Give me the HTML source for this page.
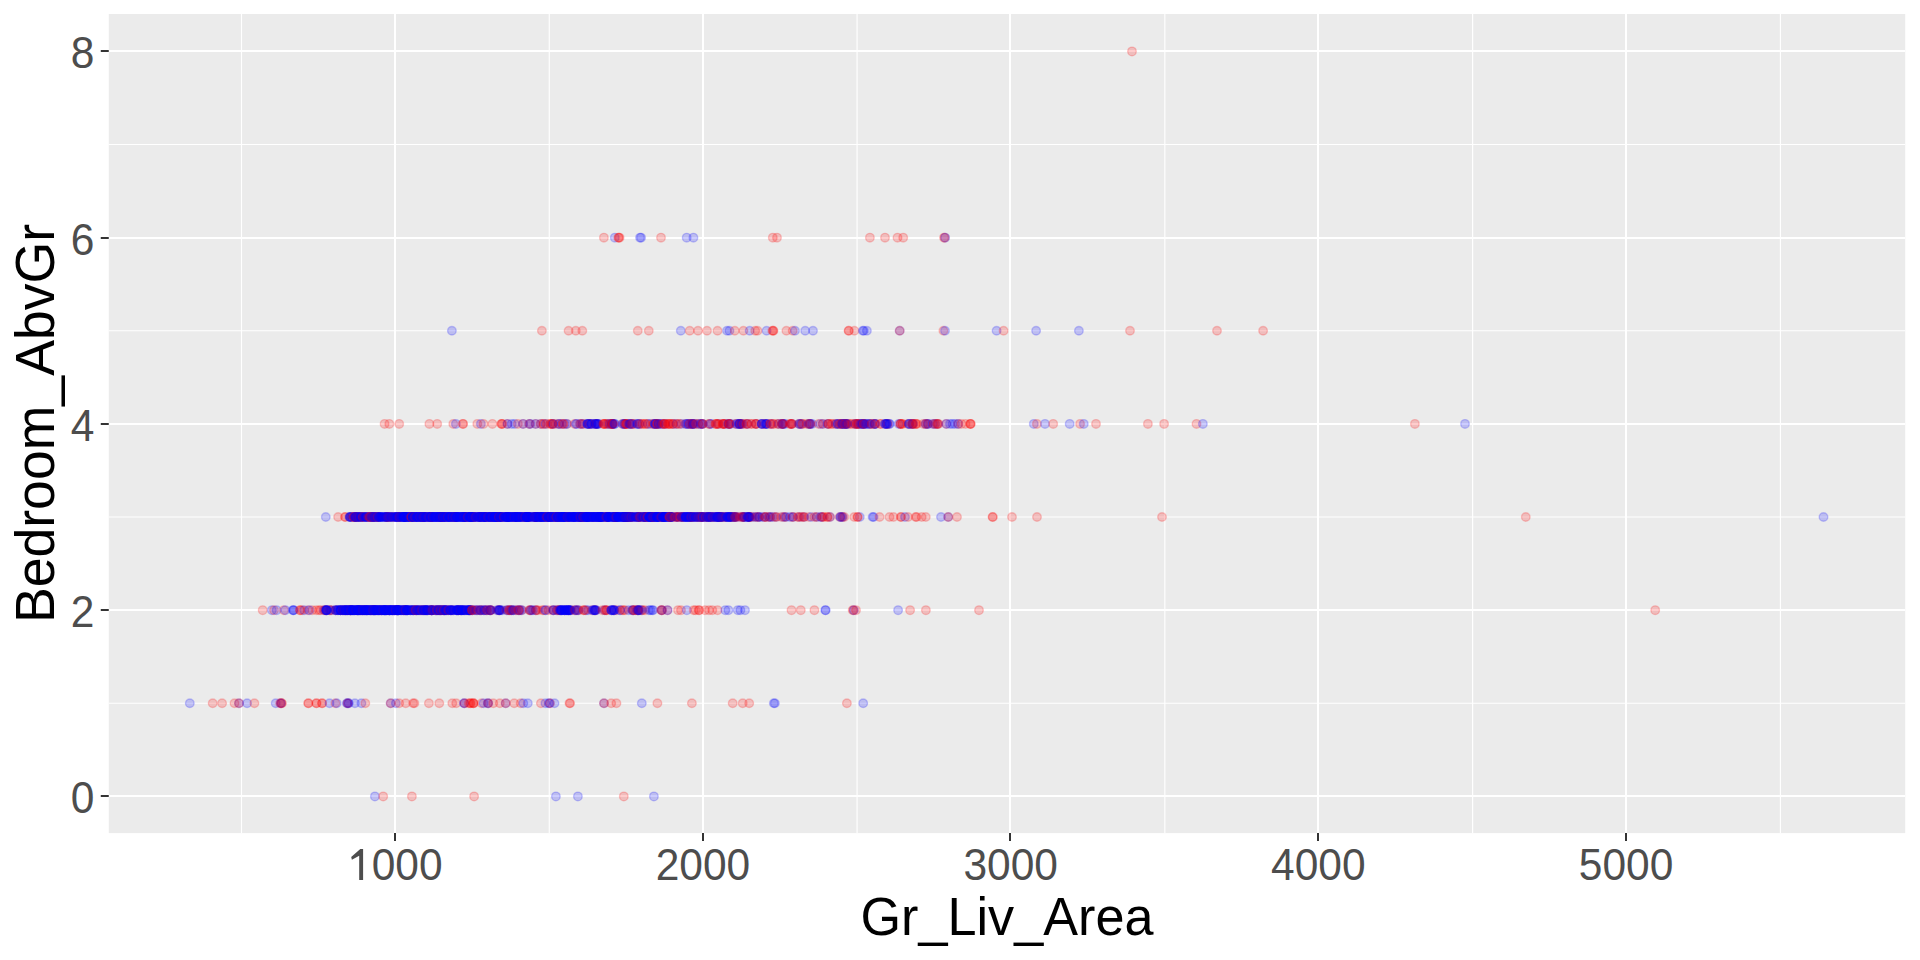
<!DOCTYPE html>
<html><head><meta charset="utf-8"><title>Gr_Liv_Area vs Bedroom_AbvGr</title>
<style>html,body{margin:0;padding:0;background:#fff;width:1920px;height:960px;overflow:hidden}svg{display:block}.r{fill:rgba(255,0,0,0.2);stroke:rgba(255,0,0,0.2)}.b{fill:rgba(0,0,255,0.2);stroke:rgba(0,0,255,0.2)}text{font-family:"Liberation Sans",sans-serif}</style>
</head><body>
<svg width="1920" height="960" viewBox="0 0 1920 960">
<rect x="0" y="0" width="1920" height="960" fill="#FFFFFF"/>
<rect x="108.77" y="14.00" width="1796.42" height="819.10" fill="#EBEBEB"/><line x1="241.50" x2="241.50" y1="14.00" y2="833.10" stroke="#fff" stroke-width="1.15"/><line x1="549.28" x2="549.28" y1="14.00" y2="833.10" stroke="#fff" stroke-width="1.15"/><line x1="857.06" x2="857.06" y1="14.00" y2="833.10" stroke="#fff" stroke-width="1.15"/><line x1="1164.84" x2="1164.84" y1="14.00" y2="833.10" stroke="#fff" stroke-width="1.15"/><line x1="1472.62" x2="1472.62" y1="14.00" y2="833.10" stroke="#fff" stroke-width="1.15"/><line x1="1780.40" x2="1780.40" y1="14.00" y2="833.10" stroke="#fff" stroke-width="1.15"/><line x1="108.77" x2="1905.19" y1="703.27" y2="703.27" stroke="#fff" stroke-width="1.15"/><line x1="108.77" x2="1905.19" y1="517.02" y2="517.02" stroke="#fff" stroke-width="1.15"/><line x1="108.77" x2="1905.19" y1="330.77" y2="330.77" stroke="#fff" stroke-width="1.15"/><line x1="108.77" x2="1905.19" y1="144.52" y2="144.52" stroke="#fff" stroke-width="1.15"/><line x1="395.00" x2="395.00" y1="14.00" y2="833.10" stroke="#fff" stroke-width="2"/><line x1="703.00" x2="703.00" y1="14.00" y2="833.10" stroke="#fff" stroke-width="2"/><line x1="1010.00" x2="1010.00" y1="14.00" y2="833.10" stroke="#fff" stroke-width="2"/><line x1="1318.00" x2="1318.00" y1="14.00" y2="833.10" stroke="#fff" stroke-width="2"/><line x1="1626.00" x2="1626.00" y1="14.00" y2="833.10" stroke="#fff" stroke-width="2"/><line x1="108.77" x2="1905.19" y1="796.00" y2="796.00" stroke="#fff" stroke-width="2"/><line x1="108.77" x2="1905.19" y1="610.00" y2="610.00" stroke="#fff" stroke-width="2"/><line x1="108.77" x2="1905.19" y1="424.00" y2="424.00" stroke="#fff" stroke-width="2"/><line x1="108.77" x2="1905.19" y1="238.00" y2="238.00" stroke="#fff" stroke-width="2"/><line x1="108.77" x2="1905.19" y1="51.00" y2="51.00" stroke="#fff" stroke-width="2"/><g stroke-width="1.4"><circle cx="1132.0" cy="51.40" r="4.3" class="r"/><circle cx="603.9" cy="237.65" r="4.3" class="r"/><circle cx="614.8" cy="237.65" r="4.3" class="b"/><circle cx="618.8" cy="237.65" r="4.3" class="r"/><circle cx="618.4" cy="237.65" r="4.3" class="r"/><circle cx="619.6" cy="237.65" r="4.3" class="r"/><circle cx="640.0" cy="237.65" r="4.3" class="b"/><circle cx="641.1" cy="237.65" r="4.3" class="b"/><circle cx="661.0" cy="237.65" r="4.3" class="r"/><circle cx="686.7" cy="237.65" r="4.3" class="b"/><circle cx="693.4" cy="237.65" r="4.3" class="b"/><circle cx="772.8" cy="237.65" r="4.3" class="r"/><circle cx="777.0" cy="237.65" r="4.3" class="r"/><circle cx="869.9" cy="237.65" r="4.3" class="r"/><circle cx="885.0" cy="237.65" r="4.3" class="r"/><circle cx="897.5" cy="237.65" r="4.3" class="r"/><circle cx="903.2" cy="237.65" r="4.3" class="r"/><circle cx="944.8" cy="237.65" r="4.3" class="r"/><circle cx="944.0" cy="237.65" r="4.3" class="r"/><circle cx="945.1" cy="237.65" r="4.3" class="b"/><circle cx="451.9" cy="330.77" r="4.3" class="b"/><circle cx="541.9" cy="330.77" r="4.3" class="r"/><circle cx="568.6" cy="330.77" r="4.3" class="r"/><circle cx="575.8" cy="330.77" r="4.3" class="r"/><circle cx="582.3" cy="330.77" r="4.3" class="r"/><circle cx="637.8" cy="330.77" r="4.3" class="r"/><circle cx="648.8" cy="330.77" r="4.3" class="r"/><circle cx="680.8" cy="330.77" r="4.3" class="b"/><circle cx="689.7" cy="330.77" r="4.3" class="r"/><circle cx="698.0" cy="330.77" r="4.3" class="r"/><circle cx="707.0" cy="330.77" r="4.3" class="r"/><circle cx="717.5" cy="330.77" r="4.3" class="r"/><circle cx="727.0" cy="330.77" r="4.3" class="b"/><circle cx="729.4" cy="330.77" r="4.3" class="b"/><circle cx="734.8" cy="330.77" r="4.3" class="r"/><circle cx="743.4" cy="330.77" r="4.3" class="r"/><circle cx="749.7" cy="330.77" r="4.3" class="b"/><circle cx="755.2" cy="330.77" r="4.3" class="r"/><circle cx="757.5" cy="330.77" r="4.3" class="r"/><circle cx="766.6" cy="330.77" r="4.3" class="b"/><circle cx="773.4" cy="330.77" r="4.3" class="r"/><circle cx="772.3" cy="330.77" r="4.3" class="r"/><circle cx="773.2" cy="330.77" r="4.3" class="r"/><circle cx="786.4" cy="330.77" r="4.3" class="r"/><circle cx="792.7" cy="330.77" r="4.3" class="r"/><circle cx="795.0" cy="330.77" r="4.3" class="b"/><circle cx="805.2" cy="330.77" r="4.3" class="b"/><circle cx="813.0" cy="330.77" r="4.3" class="b"/><circle cx="848.7" cy="330.77" r="4.3" class="r"/><circle cx="848.7" cy="330.77" r="4.3" class="r"/><circle cx="854.4" cy="330.77" r="4.3" class="r"/><circle cx="862.8" cy="330.77" r="4.3" class="b"/><circle cx="863.8" cy="330.77" r="4.3" class="b"/><circle cx="866.9" cy="330.77" r="4.3" class="b"/><circle cx="899.7" cy="330.77" r="4.3" class="b"/><circle cx="899.7" cy="330.77" r="4.3" class="r"/><circle cx="943.4" cy="330.77" r="4.3" class="r"/><circle cx="945.0" cy="330.77" r="4.3" class="b"/><circle cx="996.6" cy="330.77" r="4.3" class="b"/><circle cx="1003.6" cy="330.77" r="4.3" class="r"/><circle cx="1036.1" cy="330.77" r="4.3" class="b"/><circle cx="1078.9" cy="330.77" r="4.3" class="b"/><circle cx="1130.0" cy="330.77" r="4.3" class="r"/><circle cx="1217.0" cy="330.77" r="4.3" class="r"/><circle cx="1263.1" cy="330.77" r="4.3" class="r"/><circle cx="384.6" cy="423.90" r="4.3" class="r"/><circle cx="389.3" cy="423.90" r="4.3" class="r"/><circle cx="399.2" cy="423.90" r="4.3" class="r"/><circle cx="429.4" cy="423.90" r="4.3" class="r"/><circle cx="437.2" cy="423.90" r="4.3" class="r"/><circle cx="453.3" cy="423.90" r="4.3" class="r"/><circle cx="455.9" cy="423.90" r="4.3" class="b"/><circle cx="462.9" cy="423.90" r="4.3" class="r"/><circle cx="463.1" cy="423.90" r="4.3" class="r"/><circle cx="477.3" cy="423.90" r="4.3" class="r"/><circle cx="480.9" cy="423.90" r="4.3" class="b"/><circle cx="483.5" cy="423.90" r="4.3" class="r"/><circle cx="492.4" cy="423.90" r="4.3" class="r"/><circle cx="501.6" cy="423.90" r="4.3" class="r"/><circle cx="502.4" cy="423.90" r="4.3" class="r"/><circle cx="501.5" cy="423.90" r="4.3" class="r"/><circle cx="507.5" cy="423.90" r="4.3" class="r"/><circle cx="507.5" cy="423.90" r="4.3" class="b"/><circle cx="511.7" cy="423.90" r="4.3" class="b"/><circle cx="514.8" cy="423.90" r="4.3" class="b"/><circle cx="517.9" cy="423.90" r="4.3" class="r"/><circle cx="523.1" cy="423.90" r="4.3" class="r"/><circle cx="523.1" cy="423.90" r="4.3" class="b"/><circle cx="529.2" cy="423.90" r="4.3" class="b"/><circle cx="530.5" cy="423.90" r="4.3" class="b"/><circle cx="529.4" cy="423.90" r="4.3" class="r"/><circle cx="535.6" cy="423.90" r="4.3" class="r"/><circle cx="535.6" cy="423.90" r="4.3" class="b"/><circle cx="540.8" cy="423.90" r="4.3" class="b"/><circle cx="540.8" cy="423.90" r="4.3" class="r"/><circle cx="550.2" cy="423.90" r="4.3" class="r"/><circle cx="552.2" cy="423.90" r="4.3" class="r"/><circle cx="550.8" cy="423.90" r="4.3" class="r"/><circle cx="558.7" cy="423.90" r="4.3" class="b"/><circle cx="558.7" cy="423.90" r="4.3" class="b"/><circle cx="559.6" cy="423.90" r="4.3" class="r"/><circle cx="566.9" cy="423.90" r="4.3" class="r"/><circle cx="566.9" cy="423.90" r="4.3" class="b"/><circle cx="543.1" cy="423.90" r="4.3" class="r"/><circle cx="543.9" cy="423.90" r="4.3" class="r"/><circle cx="545.5" cy="423.90" r="4.3" class="b"/><circle cx="546.9" cy="423.90" r="4.3" class="r"/><circle cx="555.3" cy="423.90" r="4.3" class="r"/><circle cx="552.4" cy="423.90" r="4.3" class="r"/><circle cx="552.4" cy="423.90" r="4.3" class="r"/><circle cx="553.2" cy="423.90" r="4.3" class="b"/><circle cx="561.8" cy="423.90" r="4.3" class="b"/><circle cx="564.8" cy="423.90" r="4.3" class="b"/><circle cx="563.5" cy="423.90" r="4.3" class="r"/><circle cx="562.7" cy="423.90" r="4.3" class="r"/><circle cx="575.8" cy="423.90" r="4.3" class="b"/><circle cx="574.6" cy="423.90" r="4.3" class="r"/><circle cx="576.7" cy="423.90" r="4.3" class="b"/><circle cx="580.3" cy="423.90" r="4.3" class="b"/><circle cx="581.9" cy="423.90" r="4.3" class="r"/><circle cx="583.9" cy="423.90" r="4.3" class="r"/><circle cx="582.3" cy="423.90" r="4.3" class="b"/><circle cx="580.1" cy="423.90" r="4.3" class="r"/><circle cx="589.0" cy="423.90" r="4.3" class="r"/><circle cx="589.1" cy="423.90" r="4.3" class="r"/><circle cx="590.0" cy="423.90" r="4.3" class="r"/><circle cx="591.8" cy="423.90" r="4.3" class="b"/><circle cx="587.4" cy="423.90" r="4.3" class="b"/><circle cx="587.6" cy="423.90" r="4.3" class="b"/><circle cx="588.6" cy="423.90" r="4.3" class="b"/><circle cx="591.2" cy="423.90" r="4.3" class="b"/><circle cx="587.4" cy="423.90" r="4.3" class="b"/><circle cx="591.4" cy="423.90" r="4.3" class="b"/><circle cx="594.9" cy="423.90" r="4.3" class="r"/><circle cx="596.5" cy="423.90" r="4.3" class="r"/><circle cx="597.1" cy="423.90" r="4.3" class="r"/><circle cx="595.7" cy="423.90" r="4.3" class="b"/><circle cx="597.3" cy="423.90" r="4.3" class="b"/><circle cx="598.3" cy="423.90" r="4.3" class="b"/><circle cx="595.1" cy="423.90" r="4.3" class="b"/><circle cx="598.6" cy="423.90" r="4.3" class="b"/><circle cx="595.1" cy="423.90" r="4.3" class="b"/><circle cx="596.7" cy="423.90" r="4.3" class="b"/><circle cx="604.4" cy="423.90" r="4.3" class="r"/><circle cx="603.7" cy="423.90" r="4.3" class="r"/><circle cx="607.5" cy="423.90" r="4.3" class="b"/><circle cx="603.3" cy="423.90" r="4.3" class="r"/><circle cx="605.0" cy="423.90" r="4.3" class="r"/><circle cx="606.4" cy="423.90" r="4.3" class="r"/><circle cx="608.7" cy="423.90" r="4.3" class="r"/><circle cx="609.5" cy="423.90" r="4.3" class="b"/><circle cx="610.3" cy="423.90" r="4.3" class="r"/><circle cx="612.3" cy="423.90" r="4.3" class="r"/><circle cx="612.2" cy="423.90" r="4.3" class="r"/><circle cx="611.9" cy="423.90" r="4.3" class="r"/><circle cx="612.9" cy="423.90" r="4.3" class="r"/><circle cx="611.5" cy="423.90" r="4.3" class="b"/><circle cx="612.6" cy="423.90" r="4.3" class="r"/><circle cx="613.1" cy="423.90" r="4.3" class="b"/><circle cx="612.9" cy="423.90" r="4.3" class="r"/><circle cx="615.0" cy="423.90" r="4.3" class="b"/><circle cx="614.4" cy="423.90" r="4.3" class="b"/><circle cx="625.2" cy="423.90" r="4.3" class="r"/><circle cx="622.2" cy="423.90" r="4.3" class="r"/><circle cx="624.7" cy="423.90" r="4.3" class="r"/><circle cx="622.9" cy="423.90" r="4.3" class="b"/><circle cx="623.6" cy="423.90" r="4.3" class="b"/><circle cx="626.4" cy="423.90" r="4.3" class="r"/><circle cx="625.1" cy="423.90" r="4.3" class="r"/><circle cx="629.9" cy="423.90" r="4.3" class="r"/><circle cx="624.7" cy="423.90" r="4.3" class="b"/><circle cx="626.9" cy="423.90" r="4.3" class="r"/><circle cx="626.6" cy="423.90" r="4.3" class="r"/><circle cx="634.4" cy="423.90" r="4.3" class="r"/><circle cx="631.0" cy="423.90" r="4.3" class="b"/><circle cx="631.9" cy="423.90" r="4.3" class="r"/><circle cx="629.1" cy="423.90" r="4.3" class="b"/><circle cx="632.5" cy="423.90" r="4.3" class="b"/><circle cx="629.9" cy="423.90" r="4.3" class="b"/><circle cx="632.4" cy="423.90" r="4.3" class="r"/><circle cx="638.8" cy="423.90" r="4.3" class="b"/><circle cx="637.2" cy="423.90" r="4.3" class="b"/><circle cx="637.3" cy="423.90" r="4.3" class="b"/><circle cx="641.8" cy="423.90" r="4.3" class="r"/><circle cx="642.7" cy="423.90" r="4.3" class="r"/><circle cx="639.6" cy="423.90" r="4.3" class="b"/><circle cx="639.5" cy="423.90" r="4.3" class="r"/><circle cx="650.6" cy="423.90" r="4.3" class="b"/><circle cx="648.0" cy="423.90" r="4.3" class="r"/><circle cx="647.9" cy="423.90" r="4.3" class="b"/><circle cx="644.9" cy="423.90" r="4.3" class="r"/><circle cx="645.6" cy="423.90" r="4.3" class="r"/><circle cx="652.9" cy="423.90" r="4.3" class="r"/><circle cx="654.6" cy="423.90" r="4.3" class="b"/><circle cx="657.0" cy="423.90" r="4.3" class="r"/><circle cx="655.4" cy="423.90" r="4.3" class="b"/><circle cx="656.3" cy="423.90" r="4.3" class="b"/><circle cx="653.7" cy="423.90" r="4.3" class="r"/><circle cx="655.3" cy="423.90" r="4.3" class="b"/><circle cx="654.8" cy="423.90" r="4.3" class="b"/><circle cx="657.2" cy="423.90" r="4.3" class="r"/><circle cx="662.7" cy="423.90" r="4.3" class="b"/><circle cx="659.1" cy="423.90" r="4.3" class="r"/><circle cx="658.6" cy="423.90" r="4.3" class="b"/><circle cx="657.2" cy="423.90" r="4.3" class="r"/><circle cx="661.2" cy="423.90" r="4.3" class="b"/><circle cx="658.7" cy="423.90" r="4.3" class="b"/><circle cx="664.8" cy="423.90" r="4.3" class="r"/><circle cx="665.7" cy="423.90" r="4.3" class="b"/><circle cx="667.9" cy="423.90" r="4.3" class="r"/><circle cx="664.0" cy="423.90" r="4.3" class="r"/><circle cx="664.9" cy="423.90" r="4.3" class="r"/><circle cx="662.6" cy="423.90" r="4.3" class="r"/><circle cx="673.3" cy="423.90" r="4.3" class="b"/><circle cx="668.7" cy="423.90" r="4.3" class="r"/><circle cx="669.2" cy="423.90" r="4.3" class="r"/><circle cx="673.0" cy="423.90" r="4.3" class="r"/><circle cx="670.3" cy="423.90" r="4.3" class="r"/><circle cx="672.3" cy="423.90" r="4.3" class="r"/><circle cx="681.6" cy="423.90" r="4.3" class="b"/><circle cx="676.6" cy="423.90" r="4.3" class="b"/><circle cx="676.1" cy="423.90" r="4.3" class="r"/><circle cx="680.1" cy="423.90" r="4.3" class="r"/><circle cx="678.4" cy="423.90" r="4.3" class="r"/><circle cx="689.8" cy="423.90" r="4.3" class="r"/><circle cx="688.7" cy="423.90" r="4.3" class="b"/><circle cx="690.7" cy="423.90" r="4.3" class="b"/><circle cx="685.7" cy="423.90" r="4.3" class="r"/><circle cx="685.6" cy="423.90" r="4.3" class="b"/><circle cx="686.9" cy="423.90" r="4.3" class="b"/><circle cx="688.1" cy="423.90" r="4.3" class="b"/><circle cx="689.6" cy="423.90" r="4.3" class="r"/><circle cx="692.6" cy="423.90" r="4.3" class="b"/><circle cx="692.3" cy="423.90" r="4.3" class="r"/><circle cx="692.4" cy="423.90" r="4.3" class="b"/><circle cx="692.8" cy="423.90" r="4.3" class="b"/><circle cx="693.5" cy="423.90" r="4.3" class="b"/><circle cx="694.5" cy="423.90" r="4.3" class="b"/><circle cx="696.0" cy="423.90" r="4.3" class="r"/><circle cx="692.5" cy="423.90" r="4.3" class="r"/><circle cx="702.6" cy="423.90" r="4.3" class="b"/><circle cx="700.5" cy="423.90" r="4.3" class="b"/><circle cx="701.1" cy="423.90" r="4.3" class="b"/><circle cx="702.4" cy="423.90" r="4.3" class="r"/><circle cx="698.3" cy="423.90" r="4.3" class="b"/><circle cx="702.1" cy="423.90" r="4.3" class="b"/><circle cx="702.7" cy="423.90" r="4.3" class="r"/><circle cx="698.2" cy="423.90" r="4.3" class="r"/><circle cx="709.7" cy="423.90" r="4.3" class="r"/><circle cx="711.3" cy="423.90" r="4.3" class="b"/><circle cx="709.9" cy="423.90" r="4.3" class="b"/><circle cx="708.6" cy="423.90" r="4.3" class="r"/><circle cx="715.7" cy="423.90" r="4.3" class="r"/><circle cx="718.6" cy="423.90" r="4.3" class="b"/><circle cx="717.4" cy="423.90" r="4.3" class="r"/><circle cx="718.6" cy="423.90" r="4.3" class="r"/><circle cx="717.0" cy="423.90" r="4.3" class="r"/><circle cx="715.5" cy="423.90" r="4.3" class="r"/><circle cx="724.2" cy="423.90" r="4.3" class="b"/><circle cx="724.2" cy="423.90" r="4.3" class="r"/><circle cx="722.9" cy="423.90" r="4.3" class="r"/><circle cx="722.7" cy="423.90" r="4.3" class="r"/><circle cx="725.6" cy="423.90" r="4.3" class="r"/><circle cx="723.2" cy="423.90" r="4.3" class="r"/><circle cx="729.6" cy="423.90" r="4.3" class="b"/><circle cx="728.8" cy="423.90" r="4.3" class="b"/><circle cx="731.0" cy="423.90" r="4.3" class="b"/><circle cx="728.3" cy="423.90" r="4.3" class="b"/><circle cx="728.9" cy="423.90" r="4.3" class="r"/><circle cx="729.4" cy="423.90" r="4.3" class="r"/><circle cx="729.5" cy="423.90" r="4.3" class="r"/><circle cx="739.8" cy="423.90" r="4.3" class="r"/><circle cx="739.7" cy="423.90" r="4.3" class="r"/><circle cx="739.0" cy="423.90" r="4.3" class="b"/><circle cx="736.9" cy="423.90" r="4.3" class="b"/><circle cx="736.4" cy="423.90" r="4.3" class="b"/><circle cx="739.9" cy="423.90" r="4.3" class="b"/><circle cx="735.3" cy="423.90" r="4.3" class="r"/><circle cx="740.9" cy="423.90" r="4.3" class="r"/><circle cx="740.2" cy="423.90" r="4.3" class="r"/><circle cx="739.1" cy="423.90" r="4.3" class="b"/><circle cx="739.1" cy="423.90" r="4.3" class="b"/><circle cx="741.6" cy="423.90" r="4.3" class="b"/><circle cx="742.3" cy="423.90" r="4.3" class="b"/><circle cx="743.3" cy="423.90" r="4.3" class="r"/><circle cx="746.7" cy="423.90" r="4.3" class="r"/><circle cx="746.5" cy="423.90" r="4.3" class="r"/><circle cx="751.3" cy="423.90" r="4.3" class="r"/><circle cx="747.6" cy="423.90" r="4.3" class="b"/><circle cx="747.4" cy="423.90" r="4.3" class="r"/><circle cx="751.5" cy="423.90" r="4.3" class="r"/><circle cx="756.0" cy="423.90" r="4.3" class="b"/><circle cx="756.2" cy="423.90" r="4.3" class="r"/><circle cx="755.4" cy="423.90" r="4.3" class="r"/><circle cx="756.1" cy="423.90" r="4.3" class="r"/><circle cx="761.7" cy="423.90" r="4.3" class="r"/><circle cx="765.5" cy="423.90" r="4.3" class="r"/><circle cx="764.0" cy="423.90" r="4.3" class="r"/><circle cx="761.8" cy="423.90" r="4.3" class="b"/><circle cx="767.0" cy="423.90" r="4.3" class="b"/><circle cx="765.2" cy="423.90" r="4.3" class="b"/><circle cx="766.2" cy="423.90" r="4.3" class="b"/><circle cx="761.9" cy="423.90" r="4.3" class="b"/><circle cx="766.5" cy="423.90" r="4.3" class="b"/><circle cx="761.8" cy="423.90" r="4.3" class="b"/><circle cx="770.7" cy="423.90" r="4.3" class="r"/><circle cx="773.2" cy="423.90" r="4.3" class="r"/><circle cx="771.3" cy="423.90" r="4.3" class="b"/><circle cx="770.0" cy="423.90" r="4.3" class="r"/><circle cx="777.3" cy="423.90" r="4.3" class="r"/><circle cx="778.8" cy="423.90" r="4.3" class="b"/><circle cx="773.3" cy="423.90" r="4.3" class="r"/><circle cx="778.6" cy="423.90" r="4.3" class="r"/><circle cx="782.6" cy="423.90" r="4.3" class="r"/><circle cx="785.3" cy="423.90" r="4.3" class="b"/><circle cx="781.8" cy="423.90" r="4.3" class="b"/><circle cx="782.5" cy="423.90" r="4.3" class="b"/><circle cx="783.8" cy="423.90" r="4.3" class="b"/><circle cx="782.8" cy="423.90" r="4.3" class="b"/><circle cx="782.6" cy="423.90" r="4.3" class="r"/><circle cx="782.0" cy="423.90" r="4.3" class="r"/><circle cx="789.5" cy="423.90" r="4.3" class="r"/><circle cx="791.1" cy="423.90" r="4.3" class="r"/><circle cx="791.9" cy="423.90" r="4.3" class="b"/><circle cx="790.7" cy="423.90" r="4.3" class="r"/><circle cx="791.9" cy="423.90" r="4.3" class="r"/><circle cx="791.9" cy="423.90" r="4.3" class="r"/><circle cx="801.2" cy="423.90" r="4.3" class="b"/><circle cx="799.4" cy="423.90" r="4.3" class="b"/><circle cx="802.0" cy="423.90" r="4.3" class="r"/><circle cx="800.8" cy="423.90" r="4.3" class="b"/><circle cx="799.1" cy="423.90" r="4.3" class="b"/><circle cx="799.1" cy="423.90" r="4.3" class="r"/><circle cx="802.9" cy="423.90" r="4.3" class="r"/><circle cx="810.0" cy="423.90" r="4.3" class="b"/><circle cx="810.6" cy="423.90" r="4.3" class="b"/><circle cx="809.4" cy="423.90" r="4.3" class="b"/><circle cx="810.4" cy="423.90" r="4.3" class="r"/><circle cx="812.2" cy="423.90" r="4.3" class="b"/><circle cx="806.7" cy="423.90" r="4.3" class="r"/><circle cx="808.7" cy="423.90" r="4.3" class="b"/><circle cx="809.0" cy="423.90" r="4.3" class="r"/><circle cx="822.8" cy="423.90" r="4.3" class="b"/><circle cx="820.3" cy="423.90" r="4.3" class="b"/><circle cx="818.6" cy="423.90" r="4.3" class="r"/><circle cx="822.8" cy="423.90" r="4.3" class="r"/><circle cx="828.1" cy="423.90" r="4.3" class="r"/><circle cx="828.3" cy="423.90" r="4.3" class="r"/><circle cx="827.5" cy="423.90" r="4.3" class="b"/><circle cx="829.0" cy="423.90" r="4.3" class="r"/><circle cx="831.5" cy="423.90" r="4.3" class="r"/><circle cx="832.5" cy="423.90" r="4.3" class="r"/><circle cx="835.9" cy="423.90" r="4.3" class="b"/><circle cx="835.7" cy="423.90" r="4.3" class="r"/><circle cx="842.1" cy="423.90" r="4.3" class="b"/><circle cx="839.4" cy="423.90" r="4.3" class="r"/><circle cx="842.7" cy="423.90" r="4.3" class="b"/><circle cx="838.8" cy="423.90" r="4.3" class="r"/><circle cx="837.5" cy="423.90" r="4.3" class="b"/><circle cx="840.8" cy="423.90" r="4.3" class="r"/><circle cx="842.4" cy="423.90" r="4.3" class="b"/><circle cx="837.9" cy="423.90" r="4.3" class="b"/><circle cx="844.8" cy="423.90" r="4.3" class="b"/><circle cx="846.4" cy="423.90" r="4.3" class="r"/><circle cx="844.1" cy="423.90" r="4.3" class="b"/><circle cx="846.0" cy="423.90" r="4.3" class="r"/><circle cx="845.4" cy="423.90" r="4.3" class="b"/><circle cx="845.9" cy="423.90" r="4.3" class="b"/><circle cx="841.8" cy="423.90" r="4.3" class="b"/><circle cx="841.3" cy="423.90" r="4.3" class="r"/><circle cx="848.3" cy="423.90" r="4.3" class="r"/><circle cx="846.8" cy="423.90" r="4.3" class="b"/><circle cx="850.3" cy="423.90" r="4.3" class="r"/><circle cx="847.2" cy="423.90" r="4.3" class="b"/><circle cx="844.8" cy="423.90" r="4.3" class="r"/><circle cx="856.5" cy="423.90" r="4.3" class="r"/><circle cx="852.0" cy="423.90" r="4.3" class="r"/><circle cx="856.8" cy="423.90" r="4.3" class="r"/><circle cx="854.9" cy="423.90" r="4.3" class="r"/><circle cx="855.0" cy="423.90" r="4.3" class="r"/><circle cx="855.2" cy="423.90" r="4.3" class="b"/><circle cx="857.4" cy="423.90" r="4.3" class="r"/><circle cx="861.4" cy="423.90" r="4.3" class="b"/><circle cx="858.2" cy="423.90" r="4.3" class="b"/><circle cx="860.0" cy="423.90" r="4.3" class="b"/><circle cx="858.6" cy="423.90" r="4.3" class="r"/><circle cx="861.4" cy="423.90" r="4.3" class="b"/><circle cx="858.5" cy="423.90" r="4.3" class="r"/><circle cx="862.9" cy="423.90" r="4.3" class="b"/><circle cx="863.1" cy="423.90" r="4.3" class="b"/><circle cx="864.5" cy="423.90" r="4.3" class="r"/><circle cx="863.4" cy="423.90" r="4.3" class="b"/><circle cx="867.5" cy="423.90" r="4.3" class="b"/><circle cx="863.9" cy="423.90" r="4.3" class="r"/><circle cx="863.5" cy="423.90" r="4.3" class="r"/><circle cx="866.4" cy="423.90" r="4.3" class="b"/><circle cx="864.8" cy="423.90" r="4.3" class="b"/><circle cx="874.9" cy="423.90" r="4.3" class="b"/><circle cx="874.6" cy="423.90" r="4.3" class="b"/><circle cx="871.8" cy="423.90" r="4.3" class="r"/><circle cx="869.7" cy="423.90" r="4.3" class="r"/><circle cx="874.4" cy="423.90" r="4.3" class="b"/><circle cx="870.2" cy="423.90" r="4.3" class="b"/><circle cx="871.8" cy="423.90" r="4.3" class="r"/><circle cx="869.1" cy="423.90" r="4.3" class="b"/><circle cx="875.5" cy="423.90" r="4.3" class="b"/><circle cx="880.5" cy="423.90" r="4.3" class="r"/><circle cx="880.6" cy="423.90" r="4.3" class="r"/><circle cx="875.4" cy="423.90" r="4.3" class="r"/><circle cx="887.6" cy="423.90" r="4.3" class="r"/><circle cx="887.8" cy="423.90" r="4.3" class="r"/><circle cx="885.7" cy="423.90" r="4.3" class="r"/><circle cx="884.7" cy="423.90" r="4.3" class="b"/><circle cx="886.2" cy="423.90" r="4.3" class="b"/><circle cx="887.0" cy="423.90" r="4.3" class="b"/><circle cx="889.3" cy="423.90" r="4.3" class="b"/><circle cx="886.4" cy="423.90" r="4.3" class="b"/><circle cx="885.0" cy="423.90" r="4.3" class="b"/><circle cx="889.7" cy="423.90" r="4.3" class="b"/><circle cx="900.3" cy="423.90" r="4.3" class="r"/><circle cx="900.5" cy="423.90" r="4.3" class="r"/><circle cx="900.4" cy="423.90" r="4.3" class="r"/><circle cx="898.7" cy="423.90" r="4.3" class="b"/><circle cx="902.1" cy="423.90" r="4.3" class="r"/><circle cx="902.4" cy="423.90" r="4.3" class="r"/><circle cx="909.2" cy="423.90" r="4.3" class="b"/><circle cx="912.4" cy="423.90" r="4.3" class="b"/><circle cx="912.6" cy="423.90" r="4.3" class="r"/><circle cx="911.3" cy="423.90" r="4.3" class="r"/><circle cx="907.7" cy="423.90" r="4.3" class="r"/><circle cx="908.7" cy="423.90" r="4.3" class="b"/><circle cx="909.4" cy="423.90" r="4.3" class="b"/><circle cx="915.8" cy="423.90" r="4.3" class="r"/><circle cx="913.7" cy="423.90" r="4.3" class="r"/><circle cx="917.1" cy="423.90" r="4.3" class="r"/><circle cx="912.9" cy="423.90" r="4.3" class="b"/><circle cx="916.0" cy="423.90" r="4.3" class="r"/><circle cx="912.3" cy="423.90" r="4.3" class="r"/><circle cx="927.6" cy="423.90" r="4.3" class="b"/><circle cx="926.3" cy="423.90" r="4.3" class="b"/><circle cx="923.2" cy="423.90" r="4.3" class="r"/><circle cx="925.4" cy="423.90" r="4.3" class="b"/><circle cx="927.7" cy="423.90" r="4.3" class="r"/><circle cx="928.3" cy="423.90" r="4.3" class="b"/><circle cx="925.6" cy="423.90" r="4.3" class="r"/><circle cx="935.5" cy="423.90" r="4.3" class="r"/><circle cx="932.7" cy="423.90" r="4.3" class="b"/><circle cx="934.9" cy="423.90" r="4.3" class="b"/><circle cx="933.7" cy="423.90" r="4.3" class="r"/><circle cx="937.5" cy="423.90" r="4.3" class="b"/><circle cx="937.0" cy="423.90" r="4.3" class="r"/><circle cx="938.5" cy="423.90" r="4.3" class="r"/><circle cx="937.7" cy="423.90" r="4.3" class="r"/><circle cx="946.3" cy="423.90" r="4.3" class="r"/><circle cx="946.3" cy="423.90" r="4.3" class="b"/><circle cx="950.0" cy="423.90" r="4.3" class="b"/><circle cx="952.5" cy="423.90" r="4.3" class="b"/><circle cx="955.0" cy="423.90" r="4.3" class="b"/><circle cx="958.2" cy="423.90" r="4.3" class="r"/><circle cx="958.2" cy="423.90" r="4.3" class="b"/><circle cx="961.4" cy="423.90" r="4.3" class="r"/><circle cx="965.5" cy="423.90" r="4.3" class="r"/><circle cx="970.2" cy="423.90" r="4.3" class="r"/><circle cx="970.8" cy="423.90" r="4.3" class="r"/><circle cx="970.4" cy="423.90" r="4.3" class="r"/><circle cx="1033.8" cy="423.90" r="4.3" class="b"/><circle cx="1036.9" cy="423.90" r="4.3" class="r"/><circle cx="1045.0" cy="423.90" r="4.3" class="b"/><circle cx="1053.2" cy="423.90" r="4.3" class="r"/><circle cx="1069.7" cy="423.90" r="4.3" class="b"/><circle cx="1080.1" cy="423.90" r="4.3" class="r"/><circle cx="1083.8" cy="423.90" r="4.3" class="b"/><circle cx="1096.0" cy="423.90" r="4.3" class="r"/><circle cx="1147.9" cy="423.90" r="4.3" class="r"/><circle cx="1164.1" cy="423.90" r="4.3" class="r"/><circle cx="1196.5" cy="423.90" r="4.3" class="r"/><circle cx="1202.9" cy="423.90" r="4.3" class="b"/><circle cx="1414.9" cy="423.90" r="4.3" class="r"/><circle cx="1465.0" cy="423.90" r="4.3" class="b"/><circle cx="325.8" cy="517.02" r="4.3" class="b"/><circle cx="338.1" cy="517.02" r="4.3" class="r"/><circle cx="345.1" cy="517.02" r="4.3" class="r"/><circle cx="345.1" cy="517.02" r="4.3" class="r"/><circle cx="350.2" cy="517.02" r="4.3" class="r"/><circle cx="354.4" cy="517.02" r="4.3" class="r"/><circle cx="352.0" cy="517.02" r="4.3" class="r"/><circle cx="350.3" cy="517.02" r="4.3" class="b"/><circle cx="354.4" cy="517.02" r="4.3" class="b"/><circle cx="355.0" cy="517.02" r="4.3" class="b"/><circle cx="351.7" cy="517.02" r="4.3" class="b"/><circle cx="349.8" cy="517.02" r="4.3" class="b"/><circle cx="350.2" cy="517.02" r="4.3" class="b"/><circle cx="349.5" cy="517.02" r="4.3" class="b"/><circle cx="355.1" cy="517.02" r="4.3" class="r"/><circle cx="353.5" cy="517.02" r="4.3" class="r"/><circle cx="354.4" cy="517.02" r="4.3" class="r"/><circle cx="354.6" cy="517.02" r="4.3" class="b"/><circle cx="356.4" cy="517.02" r="4.3" class="b"/><circle cx="358.3" cy="517.02" r="4.3" class="b"/><circle cx="357.5" cy="517.02" r="4.3" class="b"/><circle cx="355.5" cy="517.02" r="4.3" class="b"/><circle cx="355.5" cy="517.02" r="4.3" class="b"/><circle cx="356.1" cy="517.02" r="4.3" class="b"/><circle cx="359.3" cy="517.02" r="4.3" class="r"/><circle cx="359.0" cy="517.02" r="4.3" class="r"/><circle cx="357.4" cy="517.02" r="4.3" class="r"/><circle cx="358.7" cy="517.02" r="4.3" class="b"/><circle cx="362.8" cy="517.02" r="4.3" class="b"/><circle cx="357.8" cy="517.02" r="4.3" class="b"/><circle cx="360.0" cy="517.02" r="4.3" class="b"/><circle cx="360.8" cy="517.02" r="4.3" class="b"/><circle cx="362.2" cy="517.02" r="4.3" class="b"/><circle cx="358.3" cy="517.02" r="4.3" class="b"/><circle cx="362.6" cy="517.02" r="4.3" class="r"/><circle cx="362.5" cy="517.02" r="4.3" class="r"/><circle cx="363.4" cy="517.02" r="4.3" class="r"/><circle cx="363.7" cy="517.02" r="4.3" class="b"/><circle cx="366.7" cy="517.02" r="4.3" class="b"/><circle cx="366.1" cy="517.02" r="4.3" class="b"/><circle cx="366.2" cy="517.02" r="4.3" class="b"/><circle cx="361.1" cy="517.02" r="4.3" class="b"/><circle cx="361.2" cy="517.02" r="4.3" class="b"/><circle cx="365.3" cy="517.02" r="4.3" class="b"/><circle cx="370.4" cy="517.02" r="4.3" class="r"/><circle cx="367.8" cy="517.02" r="4.3" class="r"/><circle cx="368.5" cy="517.02" r="4.3" class="r"/><circle cx="365.0" cy="517.02" r="4.3" class="b"/><circle cx="367.3" cy="517.02" r="4.3" class="b"/><circle cx="370.6" cy="517.02" r="4.3" class="b"/><circle cx="370.0" cy="517.02" r="4.3" class="b"/><circle cx="370.1" cy="517.02" r="4.3" class="b"/><circle cx="370.8" cy="517.02" r="4.3" class="b"/><circle cx="366.5" cy="517.02" r="4.3" class="b"/><circle cx="369.7" cy="517.02" r="4.3" class="r"/><circle cx="369.9" cy="517.02" r="4.3" class="r"/><circle cx="372.1" cy="517.02" r="4.3" class="r"/><circle cx="373.1" cy="517.02" r="4.3" class="b"/><circle cx="374.6" cy="517.02" r="4.3" class="b"/><circle cx="373.3" cy="517.02" r="4.3" class="b"/><circle cx="372.9" cy="517.02" r="4.3" class="b"/><circle cx="373.6" cy="517.02" r="4.3" class="b"/><circle cx="371.7" cy="517.02" r="4.3" class="b"/><circle cx="372.3" cy="517.02" r="4.3" class="b"/><circle cx="373.2" cy="517.02" r="4.3" class="r"/><circle cx="377.7" cy="517.02" r="4.3" class="r"/><circle cx="374.4" cy="517.02" r="4.3" class="r"/><circle cx="378.5" cy="517.02" r="4.3" class="b"/><circle cx="376.9" cy="517.02" r="4.3" class="b"/><circle cx="374.8" cy="517.02" r="4.3" class="b"/><circle cx="373.8" cy="517.02" r="4.3" class="b"/><circle cx="374.5" cy="517.02" r="4.3" class="b"/><circle cx="376.8" cy="517.02" r="4.3" class="b"/><circle cx="377.2" cy="517.02" r="4.3" class="b"/><circle cx="377.7" cy="517.02" r="4.3" class="r"/><circle cx="377.4" cy="517.02" r="4.3" class="r"/><circle cx="380.1" cy="517.02" r="4.3" class="r"/><circle cx="380.5" cy="517.02" r="4.3" class="b"/><circle cx="379.3" cy="517.02" r="4.3" class="b"/><circle cx="378.3" cy="517.02" r="4.3" class="b"/><circle cx="380.6" cy="517.02" r="4.3" class="b"/><circle cx="377.1" cy="517.02" r="4.3" class="b"/><circle cx="378.8" cy="517.02" r="4.3" class="b"/><circle cx="379.8" cy="517.02" r="4.3" class="b"/><circle cx="386.8" cy="517.02" r="4.3" class="r"/><circle cx="384.9" cy="517.02" r="4.3" class="r"/><circle cx="386.3" cy="517.02" r="4.3" class="r"/><circle cx="383.9" cy="517.02" r="4.3" class="b"/><circle cx="382.4" cy="517.02" r="4.3" class="b"/><circle cx="382.5" cy="517.02" r="4.3" class="b"/><circle cx="386.8" cy="517.02" r="4.3" class="b"/><circle cx="385.2" cy="517.02" r="4.3" class="b"/><circle cx="382.8" cy="517.02" r="4.3" class="b"/><circle cx="381.1" cy="517.02" r="4.3" class="b"/><circle cx="388.0" cy="517.02" r="4.3" class="r"/><circle cx="389.0" cy="517.02" r="4.3" class="r"/><circle cx="387.5" cy="517.02" r="4.3" class="r"/><circle cx="386.5" cy="517.02" r="4.3" class="b"/><circle cx="389.0" cy="517.02" r="4.3" class="b"/><circle cx="390.6" cy="517.02" r="4.3" class="b"/><circle cx="386.4" cy="517.02" r="4.3" class="b"/><circle cx="385.2" cy="517.02" r="4.3" class="b"/><circle cx="387.0" cy="517.02" r="4.3" class="b"/><circle cx="387.5" cy="517.02" r="4.3" class="b"/><circle cx="393.1" cy="517.02" r="4.3" class="r"/><circle cx="390.2" cy="517.02" r="4.3" class="r"/><circle cx="393.8" cy="517.02" r="4.3" class="r"/><circle cx="393.4" cy="517.02" r="4.3" class="b"/><circle cx="392.0" cy="517.02" r="4.3" class="b"/><circle cx="390.2" cy="517.02" r="4.3" class="b"/><circle cx="394.8" cy="517.02" r="4.3" class="b"/><circle cx="390.9" cy="517.02" r="4.3" class="b"/><circle cx="393.9" cy="517.02" r="4.3" class="b"/><circle cx="390.4" cy="517.02" r="4.3" class="b"/><circle cx="396.3" cy="517.02" r="4.3" class="r"/><circle cx="399.6" cy="517.02" r="4.3" class="r"/><circle cx="396.8" cy="517.02" r="4.3" class="b"/><circle cx="400.7" cy="517.02" r="4.3" class="b"/><circle cx="398.0" cy="517.02" r="4.3" class="b"/><circle cx="396.1" cy="517.02" r="4.3" class="b"/><circle cx="396.3" cy="517.02" r="4.3" class="b"/><circle cx="397.5" cy="517.02" r="4.3" class="b"/><circle cx="399.0" cy="517.02" r="4.3" class="b"/><circle cx="400.7" cy="517.02" r="4.3" class="b"/><circle cx="395.9" cy="517.02" r="4.3" class="b"/><circle cx="397.4" cy="517.02" r="4.3" class="b"/><circle cx="396.3" cy="517.02" r="4.3" class="b"/><circle cx="400.8" cy="517.02" r="4.3" class="b"/><circle cx="399.9" cy="517.02" r="4.3" class="r"/><circle cx="399.3" cy="517.02" r="4.3" class="r"/><circle cx="399.4" cy="517.02" r="4.3" class="b"/><circle cx="401.4" cy="517.02" r="4.3" class="b"/><circle cx="404.4" cy="517.02" r="4.3" class="b"/><circle cx="404.3" cy="517.02" r="4.3" class="b"/><circle cx="403.4" cy="517.02" r="4.3" class="b"/><circle cx="405.0" cy="517.02" r="4.3" class="b"/><circle cx="404.6" cy="517.02" r="4.3" class="b"/><circle cx="401.0" cy="517.02" r="4.3" class="b"/><circle cx="400.1" cy="517.02" r="4.3" class="b"/><circle cx="404.6" cy="517.02" r="4.3" class="b"/><circle cx="403.5" cy="517.02" r="4.3" class="b"/><circle cx="399.2" cy="517.02" r="4.3" class="b"/><circle cx="407.0" cy="517.02" r="4.3" class="r"/><circle cx="405.3" cy="517.02" r="4.3" class="r"/><circle cx="405.2" cy="517.02" r="4.3" class="b"/><circle cx="405.0" cy="517.02" r="4.3" class="b"/><circle cx="404.0" cy="517.02" r="4.3" class="b"/><circle cx="403.0" cy="517.02" r="4.3" class="b"/><circle cx="404.7" cy="517.02" r="4.3" class="b"/><circle cx="405.1" cy="517.02" r="4.3" class="b"/><circle cx="408.7" cy="517.02" r="4.3" class="b"/><circle cx="403.7" cy="517.02" r="4.3" class="b"/><circle cx="408.8" cy="517.02" r="4.3" class="b"/><circle cx="404.2" cy="517.02" r="4.3" class="b"/><circle cx="405.1" cy="517.02" r="4.3" class="b"/><circle cx="407.9" cy="517.02" r="4.3" class="b"/><circle cx="411.9" cy="517.02" r="4.3" class="r"/><circle cx="409.6" cy="517.02" r="4.3" class="r"/><circle cx="407.3" cy="517.02" r="4.3" class="b"/><circle cx="409.8" cy="517.02" r="4.3" class="b"/><circle cx="409.2" cy="517.02" r="4.3" class="b"/><circle cx="412.5" cy="517.02" r="4.3" class="b"/><circle cx="408.2" cy="517.02" r="4.3" class="b"/><circle cx="409.2" cy="517.02" r="4.3" class="b"/><circle cx="412.4" cy="517.02" r="4.3" class="b"/><circle cx="407.2" cy="517.02" r="4.3" class="b"/><circle cx="409.5" cy="517.02" r="4.3" class="b"/><circle cx="411.9" cy="517.02" r="4.3" class="b"/><circle cx="411.6" cy="517.02" r="4.3" class="b"/><circle cx="407.2" cy="517.02" r="4.3" class="b"/><circle cx="411.2" cy="517.02" r="4.3" class="r"/><circle cx="411.4" cy="517.02" r="4.3" class="r"/><circle cx="416.5" cy="517.02" r="4.3" class="b"/><circle cx="412.5" cy="517.02" r="4.3" class="b"/><circle cx="415.5" cy="517.02" r="4.3" class="b"/><circle cx="416.4" cy="517.02" r="4.3" class="b"/><circle cx="413.0" cy="517.02" r="4.3" class="b"/><circle cx="412.6" cy="517.02" r="4.3" class="b"/><circle cx="416.7" cy="517.02" r="4.3" class="b"/><circle cx="414.7" cy="517.02" r="4.3" class="b"/><circle cx="412.6" cy="517.02" r="4.3" class="b"/><circle cx="415.3" cy="517.02" r="4.3" class="b"/><circle cx="412.9" cy="517.02" r="4.3" class="b"/><circle cx="412.7" cy="517.02" r="4.3" class="b"/><circle cx="415.0" cy="517.02" r="4.3" class="r"/><circle cx="419.5" cy="517.02" r="4.3" class="r"/><circle cx="420.5" cy="517.02" r="4.3" class="b"/><circle cx="418.8" cy="517.02" r="4.3" class="b"/><circle cx="420.7" cy="517.02" r="4.3" class="b"/><circle cx="415.1" cy="517.02" r="4.3" class="b"/><circle cx="416.4" cy="517.02" r="4.3" class="b"/><circle cx="417.9" cy="517.02" r="4.3" class="b"/><circle cx="420.7" cy="517.02" r="4.3" class="b"/><circle cx="420.7" cy="517.02" r="4.3" class="b"/><circle cx="417.3" cy="517.02" r="4.3" class="b"/><circle cx="416.5" cy="517.02" r="4.3" class="b"/><circle cx="417.6" cy="517.02" r="4.3" class="b"/><circle cx="418.0" cy="517.02" r="4.3" class="b"/><circle cx="424.6" cy="517.02" r="4.3" class="r"/><circle cx="420.1" cy="517.02" r="4.3" class="r"/><circle cx="423.8" cy="517.02" r="4.3" class="b"/><circle cx="423.4" cy="517.02" r="4.3" class="b"/><circle cx="423.9" cy="517.02" r="4.3" class="b"/><circle cx="423.6" cy="517.02" r="4.3" class="b"/><circle cx="422.6" cy="517.02" r="4.3" class="b"/><circle cx="421.0" cy="517.02" r="4.3" class="b"/><circle cx="420.9" cy="517.02" r="4.3" class="b"/><circle cx="421.2" cy="517.02" r="4.3" class="b"/><circle cx="423.7" cy="517.02" r="4.3" class="b"/><circle cx="419.5" cy="517.02" r="4.3" class="b"/><circle cx="420.2" cy="517.02" r="4.3" class="b"/><circle cx="423.5" cy="517.02" r="4.3" class="b"/><circle cx="424.5" cy="517.02" r="4.3" class="r"/><circle cx="423.4" cy="517.02" r="4.3" class="r"/><circle cx="423.2" cy="517.02" r="4.3" class="b"/><circle cx="426.3" cy="517.02" r="4.3" class="b"/><circle cx="425.0" cy="517.02" r="4.3" class="b"/><circle cx="428.9" cy="517.02" r="4.3" class="b"/><circle cx="428.3" cy="517.02" r="4.3" class="b"/><circle cx="428.9" cy="517.02" r="4.3" class="b"/><circle cx="424.6" cy="517.02" r="4.3" class="b"/><circle cx="423.5" cy="517.02" r="4.3" class="b"/><circle cx="423.6" cy="517.02" r="4.3" class="b"/><circle cx="426.0" cy="517.02" r="4.3" class="b"/><circle cx="427.3" cy="517.02" r="4.3" class="b"/><circle cx="425.7" cy="517.02" r="4.3" class="b"/><circle cx="428.4" cy="517.02" r="4.3" class="r"/><circle cx="429.5" cy="517.02" r="4.3" class="r"/><circle cx="430.7" cy="517.02" r="4.3" class="b"/><circle cx="431.0" cy="517.02" r="4.3" class="b"/><circle cx="431.5" cy="517.02" r="4.3" class="b"/><circle cx="432.1" cy="517.02" r="4.3" class="b"/><circle cx="431.0" cy="517.02" r="4.3" class="b"/><circle cx="427.7" cy="517.02" r="4.3" class="b"/><circle cx="432.0" cy="517.02" r="4.3" class="b"/><circle cx="428.8" cy="517.02" r="4.3" class="b"/><circle cx="430.4" cy="517.02" r="4.3" class="b"/><circle cx="429.2" cy="517.02" r="4.3" class="b"/><circle cx="431.4" cy="517.02" r="4.3" class="b"/><circle cx="428.2" cy="517.02" r="4.3" class="b"/><circle cx="432.5" cy="517.02" r="4.3" class="r"/><circle cx="432.5" cy="517.02" r="4.3" class="r"/><circle cx="431.9" cy="517.02" r="4.3" class="b"/><circle cx="436.3" cy="517.02" r="4.3" class="b"/><circle cx="434.5" cy="517.02" r="4.3" class="b"/><circle cx="433.0" cy="517.02" r="4.3" class="b"/><circle cx="433.4" cy="517.02" r="4.3" class="b"/><circle cx="437.0" cy="517.02" r="4.3" class="b"/><circle cx="434.0" cy="517.02" r="4.3" class="b"/><circle cx="432.4" cy="517.02" r="4.3" class="b"/><circle cx="435.9" cy="517.02" r="4.3" class="b"/><circle cx="434.9" cy="517.02" r="4.3" class="b"/><circle cx="436.9" cy="517.02" r="4.3" class="b"/><circle cx="431.6" cy="517.02" r="4.3" class="b"/><circle cx="437.8" cy="517.02" r="4.3" class="r"/><circle cx="439.9" cy="517.02" r="4.3" class="r"/><circle cx="440.0" cy="517.02" r="4.3" class="b"/><circle cx="440.5" cy="517.02" r="4.3" class="b"/><circle cx="435.2" cy="517.02" r="4.3" class="b"/><circle cx="436.8" cy="517.02" r="4.3" class="b"/><circle cx="435.7" cy="517.02" r="4.3" class="b"/><circle cx="436.1" cy="517.02" r="4.3" class="b"/><circle cx="440.8" cy="517.02" r="4.3" class="b"/><circle cx="438.5" cy="517.02" r="4.3" class="b"/><circle cx="440.6" cy="517.02" r="4.3" class="b"/><circle cx="437.2" cy="517.02" r="4.3" class="b"/><circle cx="440.2" cy="517.02" r="4.3" class="b"/><circle cx="437.7" cy="517.02" r="4.3" class="b"/><circle cx="440.6" cy="517.02" r="4.3" class="r"/><circle cx="443.7" cy="517.02" r="4.3" class="r"/><circle cx="444.7" cy="517.02" r="4.3" class="b"/><circle cx="439.6" cy="517.02" r="4.3" class="b"/><circle cx="442.6" cy="517.02" r="4.3" class="b"/><circle cx="442.7" cy="517.02" r="4.3" class="b"/><circle cx="440.3" cy="517.02" r="4.3" class="b"/><circle cx="441.2" cy="517.02" r="4.3" class="b"/><circle cx="439.8" cy="517.02" r="4.3" class="b"/><circle cx="440.2" cy="517.02" r="4.3" class="b"/><circle cx="440.5" cy="517.02" r="4.3" class="b"/><circle cx="442.6" cy="517.02" r="4.3" class="b"/><circle cx="442.9" cy="517.02" r="4.3" class="b"/><circle cx="440.2" cy="517.02" r="4.3" class="b"/><circle cx="443.1" cy="517.02" r="4.3" class="r"/><circle cx="445.0" cy="517.02" r="4.3" class="r"/><circle cx="447.1" cy="517.02" r="4.3" class="b"/><circle cx="444.1" cy="517.02" r="4.3" class="b"/><circle cx="444.9" cy="517.02" r="4.3" class="b"/><circle cx="444.2" cy="517.02" r="4.3" class="b"/><circle cx="447.8" cy="517.02" r="4.3" class="b"/><circle cx="446.3" cy="517.02" r="4.3" class="b"/><circle cx="443.4" cy="517.02" r="4.3" class="b"/><circle cx="443.6" cy="517.02" r="4.3" class="b"/><circle cx="445.4" cy="517.02" r="4.3" class="b"/><circle cx="446.3" cy="517.02" r="4.3" class="b"/><circle cx="446.8" cy="517.02" r="4.3" class="b"/><circle cx="443.5" cy="517.02" r="4.3" class="b"/><circle cx="448.0" cy="517.02" r="4.3" class="r"/><circle cx="451.2" cy="517.02" r="4.3" class="r"/><circle cx="449.5" cy="517.02" r="4.3" class="b"/><circle cx="448.7" cy="517.02" r="4.3" class="b"/><circle cx="448.8" cy="517.02" r="4.3" class="b"/><circle cx="452.7" cy="517.02" r="4.3" class="b"/><circle cx="448.9" cy="517.02" r="4.3" class="b"/><circle cx="450.4" cy="517.02" r="4.3" class="b"/><circle cx="449.1" cy="517.02" r="4.3" class="b"/><circle cx="449.5" cy="517.02" r="4.3" class="b"/><circle cx="452.2" cy="517.02" r="4.3" class="b"/><circle cx="453.0" cy="517.02" r="4.3" class="b"/><circle cx="449.2" cy="517.02" r="4.3" class="b"/><circle cx="448.2" cy="517.02" r="4.3" class="b"/><circle cx="455.4" cy="517.02" r="4.3" class="r"/><circle cx="452.2" cy="517.02" r="4.3" class="r"/><circle cx="451.0" cy="517.02" r="4.3" class="b"/><circle cx="456.4" cy="517.02" r="4.3" class="b"/><circle cx="453.5" cy="517.02" r="4.3" class="b"/><circle cx="455.9" cy="517.02" r="4.3" class="b"/><circle cx="453.4" cy="517.02" r="4.3" class="b"/><circle cx="456.3" cy="517.02" r="4.3" class="b"/><circle cx="453.8" cy="517.02" r="4.3" class="b"/><circle cx="452.0" cy="517.02" r="4.3" class="b"/><circle cx="451.1" cy="517.02" r="4.3" class="b"/><circle cx="454.3" cy="517.02" r="4.3" class="b"/><circle cx="454.8" cy="517.02" r="4.3" class="b"/><circle cx="456.5" cy="517.02" r="4.3" class="b"/><circle cx="455.5" cy="517.02" r="4.3" class="r"/><circle cx="458.7" cy="517.02" r="4.3" class="r"/><circle cx="457.2" cy="517.02" r="4.3" class="b"/><circle cx="458.0" cy="517.02" r="4.3" class="b"/><circle cx="455.9" cy="517.02" r="4.3" class="b"/><circle cx="456.7" cy="517.02" r="4.3" class="b"/><circle cx="458.1" cy="517.02" r="4.3" class="b"/><circle cx="460.6" cy="517.02" r="4.3" class="b"/><circle cx="455.7" cy="517.02" r="4.3" class="b"/><circle cx="457.9" cy="517.02" r="4.3" class="b"/><circle cx="459.8" cy="517.02" r="4.3" class="b"/><circle cx="460.8" cy="517.02" r="4.3" class="b"/><circle cx="456.2" cy="517.02" r="4.3" class="b"/><circle cx="455.8" cy="517.02" r="4.3" class="b"/><circle cx="464.7" cy="517.02" r="4.3" class="r"/><circle cx="464.9" cy="517.02" r="4.3" class="r"/><circle cx="461.9" cy="517.02" r="4.3" class="b"/><circle cx="459.3" cy="517.02" r="4.3" class="b"/><circle cx="464.6" cy="517.02" r="4.3" class="b"/><circle cx="461.3" cy="517.02" r="4.3" class="b"/><circle cx="464.4" cy="517.02" r="4.3" class="b"/><circle cx="462.7" cy="517.02" r="4.3" class="b"/><circle cx="463.9" cy="517.02" r="4.3" class="b"/><circle cx="460.0" cy="517.02" r="4.3" class="b"/><circle cx="463.7" cy="517.02" r="4.3" class="b"/><circle cx="460.3" cy="517.02" r="4.3" class="b"/><circle cx="461.4" cy="517.02" r="4.3" class="b"/><circle cx="464.1" cy="517.02" r="4.3" class="b"/><circle cx="468.0" cy="517.02" r="4.3" class="r"/><circle cx="464.1" cy="517.02" r="4.3" class="r"/><circle cx="464.3" cy="517.02" r="4.3" class="b"/><circle cx="465.4" cy="517.02" r="4.3" class="b"/><circle cx="466.1" cy="517.02" r="4.3" class="b"/><circle cx="465.3" cy="517.02" r="4.3" class="b"/><circle cx="463.7" cy="517.02" r="4.3" class="b"/><circle cx="464.5" cy="517.02" r="4.3" class="b"/><circle cx="467.3" cy="517.02" r="4.3" class="b"/><circle cx="468.4" cy="517.02" r="4.3" class="b"/><circle cx="463.2" cy="517.02" r="4.3" class="b"/><circle cx="466.4" cy="517.02" r="4.3" class="b"/><circle cx="467.5" cy="517.02" r="4.3" class="b"/><circle cx="463.2" cy="517.02" r="4.3" class="b"/><circle cx="472.0" cy="517.02" r="4.3" class="r"/><circle cx="467.7" cy="517.02" r="4.3" class="r"/><circle cx="470.6" cy="517.02" r="4.3" class="b"/><circle cx="470.3" cy="517.02" r="4.3" class="b"/><circle cx="470.8" cy="517.02" r="4.3" class="b"/><circle cx="468.8" cy="517.02" r="4.3" class="b"/><circle cx="469.5" cy="517.02" r="4.3" class="b"/><circle cx="470.5" cy="517.02" r="4.3" class="b"/><circle cx="469.6" cy="517.02" r="4.3" class="b"/><circle cx="471.0" cy="517.02" r="4.3" class="b"/><circle cx="469.7" cy="517.02" r="4.3" class="b"/><circle cx="469.6" cy="517.02" r="4.3" class="b"/><circle cx="467.1" cy="517.02" r="4.3" class="b"/><circle cx="470.7" cy="517.02" r="4.3" class="b"/><circle cx="473.9" cy="517.02" r="4.3" class="r"/><circle cx="472.4" cy="517.02" r="4.3" class="r"/><circle cx="475.6" cy="517.02" r="4.3" class="b"/><circle cx="475.7" cy="517.02" r="4.3" class="b"/><circle cx="473.7" cy="517.02" r="4.3" class="b"/><circle cx="472.1" cy="517.02" r="4.3" class="b"/><circle cx="473.8" cy="517.02" r="4.3" class="b"/><circle cx="471.6" cy="517.02" r="4.3" class="b"/><circle cx="471.8" cy="517.02" r="4.3" class="b"/><circle cx="473.6" cy="517.02" r="4.3" class="b"/><circle cx="471.6" cy="517.02" r="4.3" class="b"/><circle cx="473.7" cy="517.02" r="4.3" class="b"/><circle cx="474.1" cy="517.02" r="4.3" class="b"/><circle cx="471.2" cy="517.02" r="4.3" class="b"/><circle cx="478.8" cy="517.02" r="4.3" class="r"/><circle cx="475.5" cy="517.02" r="4.3" class="r"/><circle cx="479.4" cy="517.02" r="4.3" class="b"/><circle cx="479.7" cy="517.02" r="4.3" class="b"/><circle cx="478.1" cy="517.02" r="4.3" class="b"/><circle cx="475.3" cy="517.02" r="4.3" class="b"/><circle cx="478.0" cy="517.02" r="4.3" class="b"/><circle cx="477.3" cy="517.02" r="4.3" class="b"/><circle cx="480.7" cy="517.02" r="4.3" class="b"/><circle cx="475.8" cy="517.02" r="4.3" class="b"/><circle cx="480.1" cy="517.02" r="4.3" class="b"/><circle cx="481.0" cy="517.02" r="4.3" class="b"/><circle cx="479.4" cy="517.02" r="4.3" class="b"/><circle cx="479.9" cy="517.02" r="4.3" class="b"/><circle cx="480.2" cy="517.02" r="4.3" class="r"/><circle cx="484.9" cy="517.02" r="4.3" class="r"/><circle cx="482.0" cy="517.02" r="4.3" class="b"/><circle cx="484.7" cy="517.02" r="4.3" class="b"/><circle cx="484.5" cy="517.02" r="4.3" class="b"/><circle cx="480.0" cy="517.02" r="4.3" class="b"/><circle cx="483.7" cy="517.02" r="4.3" class="b"/><circle cx="484.6" cy="517.02" r="4.3" class="b"/><circle cx="479.4" cy="517.02" r="4.3" class="b"/><circle cx="481.1" cy="517.02" r="4.3" class="b"/><circle cx="483.5" cy="517.02" r="4.3" class="b"/><circle cx="480.0" cy="517.02" r="4.3" class="b"/><circle cx="484.4" cy="517.02" r="4.3" class="b"/><circle cx="480.6" cy="517.02" r="4.3" class="b"/><circle cx="487.9" cy="517.02" r="4.3" class="r"/><circle cx="483.9" cy="517.02" r="4.3" class="r"/><circle cx="486.0" cy="517.02" r="4.3" class="b"/><circle cx="488.5" cy="517.02" r="4.3" class="b"/><circle cx="484.2" cy="517.02" r="4.3" class="b"/><circle cx="484.6" cy="517.02" r="4.3" class="b"/><circle cx="486.0" cy="517.02" r="4.3" class="b"/><circle cx="484.9" cy="517.02" r="4.3" class="b"/><circle cx="483.2" cy="517.02" r="4.3" class="b"/><circle cx="484.1" cy="517.02" r="4.3" class="b"/><circle cx="484.0" cy="517.02" r="4.3" class="b"/><circle cx="488.6" cy="517.02" r="4.3" class="b"/><circle cx="487.1" cy="517.02" r="4.3" class="b"/><circle cx="488.4" cy="517.02" r="4.3" class="b"/><circle cx="488.0" cy="517.02" r="4.3" class="r"/><circle cx="491.7" cy="517.02" r="4.3" class="r"/><circle cx="487.7" cy="517.02" r="4.3" class="b"/><circle cx="490.2" cy="517.02" r="4.3" class="b"/><circle cx="490.8" cy="517.02" r="4.3" class="b"/><circle cx="489.2" cy="517.02" r="4.3" class="b"/><circle cx="492.2" cy="517.02" r="4.3" class="b"/><circle cx="490.3" cy="517.02" r="4.3" class="b"/><circle cx="490.5" cy="517.02" r="4.3" class="b"/><circle cx="492.3" cy="517.02" r="4.3" class="b"/><circle cx="487.6" cy="517.02" r="4.3" class="b"/><circle cx="493.0" cy="517.02" r="4.3" class="b"/><circle cx="490.8" cy="517.02" r="4.3" class="b"/><circle cx="489.4" cy="517.02" r="4.3" class="b"/><circle cx="495.8" cy="517.02" r="4.3" class="r"/><circle cx="492.6" cy="517.02" r="4.3" class="r"/><circle cx="496.9" cy="517.02" r="4.3" class="b"/><circle cx="494.5" cy="517.02" r="4.3" class="b"/><circle cx="493.2" cy="517.02" r="4.3" class="b"/><circle cx="495.6" cy="517.02" r="4.3" class="b"/><circle cx="493.7" cy="517.02" r="4.3" class="b"/><circle cx="492.1" cy="517.02" r="4.3" class="b"/><circle cx="495.5" cy="517.02" r="4.3" class="b"/><circle cx="491.3" cy="517.02" r="4.3" class="b"/><circle cx="495.9" cy="517.02" r="4.3" class="b"/><circle cx="492.5" cy="517.02" r="4.3" class="b"/><circle cx="494.8" cy="517.02" r="4.3" class="b"/><circle cx="496.9" cy="517.02" r="4.3" class="b"/><circle cx="498.5" cy="517.02" r="4.3" class="r"/><circle cx="499.0" cy="517.02" r="4.3" class="r"/><circle cx="496.9" cy="517.02" r="4.3" class="b"/><circle cx="495.0" cy="517.02" r="4.3" class="b"/><circle cx="495.2" cy="517.02" r="4.3" class="b"/><circle cx="495.9" cy="517.02" r="4.3" class="b"/><circle cx="498.7" cy="517.02" r="4.3" class="b"/><circle cx="497.6" cy="517.02" r="4.3" class="b"/><circle cx="498.1" cy="517.02" r="4.3" class="b"/><circle cx="500.4" cy="517.02" r="4.3" class="b"/><circle cx="495.8" cy="517.02" r="4.3" class="b"/><circle cx="496.4" cy="517.02" r="4.3" class="b"/><circle cx="498.9" cy="517.02" r="4.3" class="b"/><circle cx="495.1" cy="517.02" r="4.3" class="b"/><circle cx="499.0" cy="517.02" r="4.3" class="r"/><circle cx="501.1" cy="517.02" r="4.3" class="r"/><circle cx="499.6" cy="517.02" r="4.3" class="b"/><circle cx="501.1" cy="517.02" r="4.3" class="b"/><circle cx="500.3" cy="517.02" r="4.3" class="b"/><circle cx="502.5" cy="517.02" r="4.3" class="b"/><circle cx="502.5" cy="517.02" r="4.3" class="b"/><circle cx="500.2" cy="517.02" r="4.3" class="b"/><circle cx="502.7" cy="517.02" r="4.3" class="b"/><circle cx="501.8" cy="517.02" r="4.3" class="b"/><circle cx="499.8" cy="517.02" r="4.3" class="b"/><circle cx="504.6" cy="517.02" r="4.3" class="b"/><circle cx="500.5" cy="517.02" r="4.3" class="b"/><circle cx="499.9" cy="517.02" r="4.3" class="b"/><circle cx="503.6" cy="517.02" r="4.3" class="r"/><circle cx="506.8" cy="517.02" r="4.3" class="r"/><circle cx="508.2" cy="517.02" r="4.3" class="b"/><circle cx="507.7" cy="517.02" r="4.3" class="b"/><circle cx="505.4" cy="517.02" r="4.3" class="b"/><circle cx="504.6" cy="517.02" r="4.3" class="b"/><circle cx="503.1" cy="517.02" r="4.3" class="b"/><circle cx="506.9" cy="517.02" r="4.3" class="b"/><circle cx="506.4" cy="517.02" r="4.3" class="b"/><circle cx="505.1" cy="517.02" r="4.3" class="b"/><circle cx="506.9" cy="517.02" r="4.3" class="b"/><circle cx="505.7" cy="517.02" r="4.3" class="b"/><circle cx="508.6" cy="517.02" r="4.3" class="b"/><circle cx="507.4" cy="517.02" r="4.3" class="b"/><circle cx="508.5" cy="517.02" r="4.3" class="r"/><circle cx="512.4" cy="517.02" r="4.3" class="r"/><circle cx="507.3" cy="517.02" r="4.3" class="b"/><circle cx="510.2" cy="517.02" r="4.3" class="b"/><circle cx="509.4" cy="517.02" r="4.3" class="b"/><circle cx="508.4" cy="517.02" r="4.3" class="b"/><circle cx="507.4" cy="517.02" r="4.3" class="b"/><circle cx="511.7" cy="517.02" r="4.3" class="b"/><circle cx="507.1" cy="517.02" r="4.3" class="b"/><circle cx="510.3" cy="517.02" r="4.3" class="b"/><circle cx="512.6" cy="517.02" r="4.3" class="b"/><circle cx="507.9" cy="517.02" r="4.3" class="b"/><circle cx="508.2" cy="517.02" r="4.3" class="b"/><circle cx="510.6" cy="517.02" r="4.3" class="b"/><circle cx="514.0" cy="517.02" r="4.3" class="r"/><circle cx="514.8" cy="517.02" r="4.3" class="r"/><circle cx="515.9" cy="517.02" r="4.3" class="b"/><circle cx="512.0" cy="517.02" r="4.3" class="b"/><circle cx="512.9" cy="517.02" r="4.3" class="b"/><circle cx="512.8" cy="517.02" r="4.3" class="b"/><circle cx="511.3" cy="517.02" r="4.3" class="b"/><circle cx="516.3" cy="517.02" r="4.3" class="b"/><circle cx="515.7" cy="517.02" r="4.3" class="b"/><circle cx="515.3" cy="517.02" r="4.3" class="b"/><circle cx="511.0" cy="517.02" r="4.3" class="b"/><circle cx="516.1" cy="517.02" r="4.3" class="b"/><circle cx="515.5" cy="517.02" r="4.3" class="b"/><circle cx="513.8" cy="517.02" r="4.3" class="b"/><circle cx="519.5" cy="517.02" r="4.3" class="r"/><circle cx="517.7" cy="517.02" r="4.3" class="r"/><circle cx="516.4" cy="517.02" r="4.3" class="b"/><circle cx="515.6" cy="517.02" r="4.3" class="b"/><circle cx="516.4" cy="517.02" r="4.3" class="b"/><circle cx="515.2" cy="517.02" r="4.3" class="b"/><circle cx="517.0" cy="517.02" r="4.3" class="b"/><circle cx="519.5" cy="517.02" r="4.3" class="b"/><circle cx="519.2" cy="517.02" r="4.3" class="b"/><circle cx="520.1" cy="517.02" r="4.3" class="b"/><circle cx="519.3" cy="517.02" r="4.3" class="b"/><circle cx="516.6" cy="517.02" r="4.3" class="b"/><circle cx="518.3" cy="517.02" r="4.3" class="b"/><circle cx="517.6" cy="517.02" r="4.3" class="b"/><circle cx="523.7" cy="517.02" r="4.3" class="r"/><circle cx="522.1" cy="517.02" r="4.3" class="r"/><circle cx="520.6" cy="517.02" r="4.3" class="b"/><circle cx="522.9" cy="517.02" r="4.3" class="b"/><circle cx="524.8" cy="517.02" r="4.3" class="b"/><circle cx="520.3" cy="517.02" r="4.3" class="b"/><circle cx="524.3" cy="517.02" r="4.3" class="b"/><circle cx="519.1" cy="517.02" r="4.3" class="b"/><circle cx="520.6" cy="517.02" r="4.3" class="b"/><circle cx="520.4" cy="517.02" r="4.3" class="b"/><circle cx="523.5" cy="517.02" r="4.3" class="b"/><circle cx="524.7" cy="517.02" r="4.3" class="b"/><circle cx="523.5" cy="517.02" r="4.3" class="b"/><circle cx="521.0" cy="517.02" r="4.3" class="b"/><circle cx="528.3" cy="517.02" r="4.3" class="r"/><circle cx="525.0" cy="517.02" r="4.3" class="r"/><circle cx="524.4" cy="517.02" r="4.3" class="b"/><circle cx="528.4" cy="517.02" r="4.3" class="b"/><circle cx="526.8" cy="517.02" r="4.3" class="b"/><circle cx="527.2" cy="517.02" r="4.3" class="b"/><circle cx="527.0" cy="517.02" r="4.3" class="b"/><circle cx="528.9" cy="517.02" r="4.3" class="b"/><circle cx="525.8" cy="517.02" r="4.3" class="b"/><circle cx="528.0" cy="517.02" r="4.3" class="b"/><circle cx="527.2" cy="517.02" r="4.3" class="b"/><circle cx="528.1" cy="517.02" r="4.3" class="b"/><circle cx="525.6" cy="517.02" r="4.3" class="b"/><circle cx="527.3" cy="517.02" r="4.3" class="b"/><circle cx="530.4" cy="517.02" r="4.3" class="r"/><circle cx="528.8" cy="517.02" r="4.3" class="r"/><circle cx="528.3" cy="517.02" r="4.3" class="b"/><circle cx="530.7" cy="517.02" r="4.3" class="b"/><circle cx="527.5" cy="517.02" r="4.3" class="b"/><circle cx="532.5" cy="517.02" r="4.3" class="b"/><circle cx="527.9" cy="517.02" r="4.3" class="b"/><circle cx="527.2" cy="517.02" r="4.3" class="b"/><circle cx="527.6" cy="517.02" r="4.3" class="b"/><circle cx="532.6" cy="517.02" r="4.3" class="b"/><circle cx="529.1" cy="517.02" r="4.3" class="b"/><circle cx="527.9" cy="517.02" r="4.3" class="b"/><circle cx="527.2" cy="517.02" r="4.3" class="b"/><circle cx="527.2" cy="517.02" r="4.3" class="b"/><circle cx="535.2" cy="517.02" r="4.3" class="r"/><circle cx="534.8" cy="517.02" r="4.3" class="r"/><circle cx="535.2" cy="517.02" r="4.3" class="b"/><circle cx="535.4" cy="517.02" r="4.3" class="b"/><circle cx="531.4" cy="517.02" r="4.3" class="b"/><circle cx="534.5" cy="517.02" r="4.3" class="b"/><circle cx="533.2" cy="517.02" r="4.3" class="b"/><circle cx="535.9" cy="517.02" r="4.3" class="b"/><circle cx="535.9" cy="517.02" r="4.3" class="b"/><circle cx="536.3" cy="517.02" r="4.3" class="b"/><circle cx="531.4" cy="517.02" r="4.3" class="b"/><circle cx="536.2" cy="517.02" r="4.3" class="b"/><circle cx="536.5" cy="517.02" r="4.3" class="b"/><circle cx="536.7" cy="517.02" r="4.3" class="b"/><circle cx="535.6" cy="517.02" r="4.3" class="r"/><circle cx="536.2" cy="517.02" r="4.3" class="r"/><circle cx="535.7" cy="517.02" r="4.3" class="b"/><circle cx="535.2" cy="517.02" r="4.3" class="b"/><circle cx="540.1" cy="517.02" r="4.3" class="b"/><circle cx="539.9" cy="517.02" r="4.3" class="b"/><circle cx="538.8" cy="517.02" r="4.3" class="b"/><circle cx="540.0" cy="517.02" r="4.3" class="b"/><circle cx="538.8" cy="517.02" r="4.3" class="b"/><circle cx="536.7" cy="517.02" r="4.3" class="b"/><circle cx="535.6" cy="517.02" r="4.3" class="b"/><circle cx="535.6" cy="517.02" r="4.3" class="b"/><circle cx="539.5" cy="517.02" r="4.3" class="b"/><circle cx="536.2" cy="517.02" r="4.3" class="b"/><circle cx="540.9" cy="517.02" r="4.3" class="r"/><circle cx="541.5" cy="517.02" r="4.3" class="r"/><circle cx="539.1" cy="517.02" r="4.3" class="b"/><circle cx="540.5" cy="517.02" r="4.3" class="b"/><circle cx="540.7" cy="517.02" r="4.3" class="b"/><circle cx="543.3" cy="517.02" r="4.3" class="b"/><circle cx="541.2" cy="517.02" r="4.3" class="b"/><circle cx="540.9" cy="517.02" r="4.3" class="b"/><circle cx="544.8" cy="517.02" r="4.3" class="b"/><circle cx="542.0" cy="517.02" r="4.3" class="b"/><circle cx="544.1" cy="517.02" r="4.3" class="b"/><circle cx="542.7" cy="517.02" r="4.3" class="b"/><circle cx="539.2" cy="517.02" r="4.3" class="b"/><circle cx="541.5" cy="517.02" r="4.3" class="b"/><circle cx="545.6" cy="517.02" r="4.3" class="r"/><circle cx="547.6" cy="517.02" r="4.3" class="r"/><circle cx="545.1" cy="517.02" r="4.3" class="b"/><circle cx="547.2" cy="517.02" r="4.3" class="b"/><circle cx="546.2" cy="517.02" r="4.3" class="b"/><circle cx="544.3" cy="517.02" r="4.3" class="b"/><circle cx="548.2" cy="517.02" r="4.3" class="b"/><circle cx="543.5" cy="517.02" r="4.3" class="b"/><circle cx="547.9" cy="517.02" r="4.3" class="b"/><circle cx="544.0" cy="517.02" r="4.3" class="b"/><circle cx="543.0" cy="517.02" r="4.3" class="b"/><circle cx="544.2" cy="517.02" r="4.3" class="b"/><circle cx="547.6" cy="517.02" r="4.3" class="b"/><circle cx="548.9" cy="517.02" r="4.3" class="b"/><circle cx="547.0" cy="517.02" r="4.3" class="r"/><circle cx="549.9" cy="517.02" r="4.3" class="r"/><circle cx="549.9" cy="517.02" r="4.3" class="b"/><circle cx="551.8" cy="517.02" r="4.3" class="b"/><circle cx="548.1" cy="517.02" r="4.3" class="b"/><circle cx="550.0" cy="517.02" r="4.3" class="b"/><circle cx="549.1" cy="517.02" r="4.3" class="b"/><circle cx="552.0" cy="517.02" r="4.3" class="b"/><circle cx="548.6" cy="517.02" r="4.3" class="b"/><circle cx="552.7" cy="517.02" r="4.3" class="b"/><circle cx="548.7" cy="517.02" r="4.3" class="b"/><circle cx="548.3" cy="517.02" r="4.3" class="b"/><circle cx="551.2" cy="517.02" r="4.3" class="b"/><circle cx="550.0" cy="517.02" r="4.3" class="b"/><circle cx="551.7" cy="517.02" r="4.3" class="r"/><circle cx="554.8" cy="517.02" r="4.3" class="r"/><circle cx="551.5" cy="517.02" r="4.3" class="b"/><circle cx="555.7" cy="517.02" r="4.3" class="b"/><circle cx="555.2" cy="517.02" r="4.3" class="b"/><circle cx="555.7" cy="517.02" r="4.3" class="b"/><circle cx="554.8" cy="517.02" r="4.3" class="b"/><circle cx="553.1" cy="517.02" r="4.3" class="b"/><circle cx="553.4" cy="517.02" r="4.3" class="b"/><circle cx="553.4" cy="517.02" r="4.3" class="b"/><circle cx="556.3" cy="517.02" r="4.3" class="b"/><circle cx="551.5" cy="517.02" r="4.3" class="b"/><circle cx="556.3" cy="517.02" r="4.3" class="b"/><circle cx="551.2" cy="517.02" r="4.3" class="b"/><circle cx="556.2" cy="517.02" r="4.3" class="r"/><circle cx="556.6" cy="517.02" r="4.3" class="r"/><circle cx="560.4" cy="517.02" r="4.3" class="b"/><circle cx="558.0" cy="517.02" r="4.3" class="b"/><circle cx="557.3" cy="517.02" r="4.3" class="b"/><circle cx="560.3" cy="517.02" r="4.3" class="b"/><circle cx="556.4" cy="517.02" r="4.3" class="b"/><circle cx="557.8" cy="517.02" r="4.3" class="b"/><circle cx="558.2" cy="517.02" r="4.3" class="b"/><circle cx="559.5" cy="517.02" r="4.3" class="b"/><circle cx="559.5" cy="517.02" r="4.3" class="b"/><circle cx="558.9" cy="517.02" r="4.3" class="b"/><circle cx="557.1" cy="517.02" r="4.3" class="b"/><circle cx="557.0" cy="517.02" r="4.3" class="b"/><circle cx="559.9" cy="517.02" r="4.3" class="r"/><circle cx="564.1" cy="517.02" r="4.3" class="r"/><circle cx="563.0" cy="517.02" r="4.3" class="b"/><circle cx="563.5" cy="517.02" r="4.3" class="b"/><circle cx="560.0" cy="517.02" r="4.3" class="b"/><circle cx="561.6" cy="517.02" r="4.3" class="b"/><circle cx="563.6" cy="517.02" r="4.3" class="b"/><circle cx="562.5" cy="517.02" r="4.3" class="b"/><circle cx="559.8" cy="517.02" r="4.3" class="b"/><circle cx="561.8" cy="517.02" r="4.3" class="b"/><circle cx="564.3" cy="517.02" r="4.3" class="b"/><circle cx="560.4" cy="517.02" r="4.3" class="b"/><circle cx="560.1" cy="517.02" r="4.3" class="b"/><circle cx="560.8" cy="517.02" r="4.3" class="b"/><circle cx="567.2" cy="517.02" r="4.3" class="r"/><circle cx="568.1" cy="517.02" r="4.3" class="r"/><circle cx="563.9" cy="517.02" r="4.3" class="b"/><circle cx="563.9" cy="517.02" r="4.3" class="b"/><circle cx="564.5" cy="517.02" r="4.3" class="b"/><circle cx="565.0" cy="517.02" r="4.3" class="b"/><circle cx="566.1" cy="517.02" r="4.3" class="b"/><circle cx="564.0" cy="517.02" r="4.3" class="b"/><circle cx="565.0" cy="517.02" r="4.3" class="b"/><circle cx="564.1" cy="517.02" r="4.3" class="b"/><circle cx="568.9" cy="517.02" r="4.3" class="b"/><circle cx="567.4" cy="517.02" r="4.3" class="b"/><circle cx="563.6" cy="517.02" r="4.3" class="b"/><circle cx="568.8" cy="517.02" r="4.3" class="b"/><circle cx="567.6" cy="517.02" r="4.3" class="r"/><circle cx="569.3" cy="517.02" r="4.3" class="r"/><circle cx="572.9" cy="517.02" r="4.3" class="b"/><circle cx="571.8" cy="517.02" r="4.3" class="b"/><circle cx="571.4" cy="517.02" r="4.3" class="b"/><circle cx="569.6" cy="517.02" r="4.3" class="b"/><circle cx="568.2" cy="517.02" r="4.3" class="b"/><circle cx="570.8" cy="517.02" r="4.3" class="b"/><circle cx="567.6" cy="517.02" r="4.3" class="b"/><circle cx="568.2" cy="517.02" r="4.3" class="b"/><circle cx="569.3" cy="517.02" r="4.3" class="b"/><circle cx="567.2" cy="517.02" r="4.3" class="b"/><circle cx="569.4" cy="517.02" r="4.3" class="b"/><circle cx="571.7" cy="517.02" r="4.3" class="b"/><circle cx="575.2" cy="517.02" r="4.3" class="r"/><circle cx="574.0" cy="517.02" r="4.3" class="r"/><circle cx="574.8" cy="517.02" r="4.3" class="b"/><circle cx="573.8" cy="517.02" r="4.3" class="b"/><circle cx="571.9" cy="517.02" r="4.3" class="b"/><circle cx="574.6" cy="517.02" r="4.3" class="b"/><circle cx="573.4" cy="517.02" r="4.3" class="b"/><circle cx="575.4" cy="517.02" r="4.3" class="b"/><circle cx="576.4" cy="517.02" r="4.3" class="b"/><circle cx="573.6" cy="517.02" r="4.3" class="b"/><circle cx="574.4" cy="517.02" r="4.3" class="b"/><circle cx="575.5" cy="517.02" r="4.3" class="b"/><circle cx="573.5" cy="517.02" r="4.3" class="b"/><circle cx="572.4" cy="517.02" r="4.3" class="b"/><circle cx="579.3" cy="517.02" r="4.3" class="r"/><circle cx="580.3" cy="517.02" r="4.3" class="r"/><circle cx="579.6" cy="517.02" r="4.3" class="b"/><circle cx="579.2" cy="517.02" r="4.3" class="b"/><circle cx="580.1" cy="517.02" r="4.3" class="b"/><circle cx="579.1" cy="517.02" r="4.3" class="b"/><circle cx="578.8" cy="517.02" r="4.3" class="b"/><circle cx="577.7" cy="517.02" r="4.3" class="b"/><circle cx="576.9" cy="517.02" r="4.3" class="b"/><circle cx="578.8" cy="517.02" r="4.3" class="b"/><circle cx="575.6" cy="517.02" r="4.3" class="b"/><circle cx="577.5" cy="517.02" r="4.3" class="b"/><circle cx="579.7" cy="517.02" r="4.3" class="b"/><circle cx="579.3" cy="517.02" r="4.3" class="b"/><circle cx="582.8" cy="517.02" r="4.3" class="r"/><circle cx="580.5" cy="517.02" r="4.3" class="r"/><circle cx="581.5" cy="517.02" r="4.3" class="b"/><circle cx="581.7" cy="517.02" r="4.3" class="b"/><circle cx="582.7" cy="517.02" r="4.3" class="b"/><circle cx="581.5" cy="517.02" r="4.3" class="b"/><circle cx="583.1" cy="517.02" r="4.3" class="b"/><circle cx="584.6" cy="517.02" r="4.3" class="b"/><circle cx="580.1" cy="517.02" r="4.3" class="b"/><circle cx="582.9" cy="517.02" r="4.3" class="b"/><circle cx="583.7" cy="517.02" r="4.3" class="b"/><circle cx="581.3" cy="517.02" r="4.3" class="b"/><circle cx="581.9" cy="517.02" r="4.3" class="b"/><circle cx="584.8" cy="517.02" r="4.3" class="b"/><circle cx="583.2" cy="517.02" r="4.3" class="r"/><circle cx="586.3" cy="517.02" r="4.3" class="r"/><circle cx="584.0" cy="517.02" r="4.3" class="b"/><circle cx="587.7" cy="517.02" r="4.3" class="b"/><circle cx="588.6" cy="517.02" r="4.3" class="b"/><circle cx="586.1" cy="517.02" r="4.3" class="b"/><circle cx="583.6" cy="517.02" r="4.3" class="b"/><circle cx="586.4" cy="517.02" r="4.3" class="b"/><circle cx="586.2" cy="517.02" r="4.3" class="b"/><circle cx="587.3" cy="517.02" r="4.3" class="b"/><circle cx="586.1" cy="517.02" r="4.3" class="b"/><circle cx="586.8" cy="517.02" r="4.3" class="b"/><circle cx="588.0" cy="517.02" r="4.3" class="b"/><circle cx="586.1" cy="517.02" r="4.3" class="b"/><circle cx="589.5" cy="517.02" r="4.3" class="r"/><circle cx="592.7" cy="517.02" r="4.3" class="r"/><circle cx="588.3" cy="517.02" r="4.3" class="b"/><circle cx="591.1" cy="517.02" r="4.3" class="b"/><circle cx="589.4" cy="517.02" r="4.3" class="b"/><circle cx="591.6" cy="517.02" r="4.3" class="b"/><circle cx="587.7" cy="517.02" r="4.3" class="b"/><circle cx="592.9" cy="517.02" r="4.3" class="b"/><circle cx="589.1" cy="517.02" r="4.3" class="b"/><circle cx="587.3" cy="517.02" r="4.3" class="b"/><circle cx="588.6" cy="517.02" r="4.3" class="b"/><circle cx="589.4" cy="517.02" r="4.3" class="b"/><circle cx="587.1" cy="517.02" r="4.3" class="b"/><circle cx="589.5" cy="517.02" r="4.3" class="b"/><circle cx="593.5" cy="517.02" r="4.3" class="r"/><circle cx="595.2" cy="517.02" r="4.3" class="r"/><circle cx="593.1" cy="517.02" r="4.3" class="b"/><circle cx="592.6" cy="517.02" r="4.3" class="b"/><circle cx="592.3" cy="517.02" r="4.3" class="b"/><circle cx="595.4" cy="517.02" r="4.3" class="b"/><circle cx="596.6" cy="517.02" r="4.3" class="b"/><circle cx="594.2" cy="517.02" r="4.3" class="b"/><circle cx="592.3" cy="517.02" r="4.3" class="b"/><circle cx="595.8" cy="517.02" r="4.3" class="b"/><circle cx="593.4" cy="517.02" r="4.3" class="b"/><circle cx="592.3" cy="517.02" r="4.3" class="b"/><circle cx="591.8" cy="517.02" r="4.3" class="b"/><circle cx="595.7" cy="517.02" r="4.3" class="b"/><circle cx="599.9" cy="517.02" r="4.3" class="r"/><circle cx="598.8" cy="517.02" r="4.3" class="r"/><circle cx="597.8" cy="517.02" r="4.3" class="b"/><circle cx="598.4" cy="517.02" r="4.3" class="b"/><circle cx="596.4" cy="517.02" r="4.3" class="b"/><circle cx="600.8" cy="517.02" r="4.3" class="b"/><circle cx="597.1" cy="517.02" r="4.3" class="b"/><circle cx="598.8" cy="517.02" r="4.3" class="b"/><circle cx="599.9" cy="517.02" r="4.3" class="b"/><circle cx="599.9" cy="517.02" r="4.3" class="b"/><circle cx="597.8" cy="517.02" r="4.3" class="b"/><circle cx="596.8" cy="517.02" r="4.3" class="b"/><circle cx="598.3" cy="517.02" r="4.3" class="b"/><circle cx="595.8" cy="517.02" r="4.3" class="b"/><circle cx="604.0" cy="517.02" r="4.3" class="r"/><circle cx="601.1" cy="517.02" r="4.3" class="r"/><circle cx="604.1" cy="517.02" r="4.3" class="b"/><circle cx="600.6" cy="517.02" r="4.3" class="b"/><circle cx="601.3" cy="517.02" r="4.3" class="b"/><circle cx="600.5" cy="517.02" r="4.3" class="b"/><circle cx="601.6" cy="517.02" r="4.3" class="b"/><circle cx="600.1" cy="517.02" r="4.3" class="b"/><circle cx="599.0" cy="517.02" r="4.3" class="b"/><circle cx="603.3" cy="517.02" r="4.3" class="b"/><circle cx="600.7" cy="517.02" r="4.3" class="b"/><circle cx="600.5" cy="517.02" r="4.3" class="b"/><circle cx="600.8" cy="517.02" r="4.3" class="b"/><circle cx="601.9" cy="517.02" r="4.3" class="b"/><circle cx="605.6" cy="517.02" r="4.3" class="r"/><circle cx="606.8" cy="517.02" r="4.3" class="r"/><circle cx="607.0" cy="517.02" r="4.3" class="b"/><circle cx="605.2" cy="517.02" r="4.3" class="b"/><circle cx="608.6" cy="517.02" r="4.3" class="b"/><circle cx="608.1" cy="517.02" r="4.3" class="b"/><circle cx="603.3" cy="517.02" r="4.3" class="b"/><circle cx="608.0" cy="517.02" r="4.3" class="b"/><circle cx="608.4" cy="517.02" r="4.3" class="b"/><circle cx="607.7" cy="517.02" r="4.3" class="b"/><circle cx="603.8" cy="517.02" r="4.3" class="b"/><circle cx="608.0" cy="517.02" r="4.3" class="b"/><circle cx="606.8" cy="517.02" r="4.3" class="b"/><circle cx="603.1" cy="517.02" r="4.3" class="b"/><circle cx="607.1" cy="517.02" r="4.3" class="r"/><circle cx="612.7" cy="517.02" r="4.3" class="r"/><circle cx="610.9" cy="517.02" r="4.3" class="b"/><circle cx="608.5" cy="517.02" r="4.3" class="b"/><circle cx="607.6" cy="517.02" r="4.3" class="b"/><circle cx="607.9" cy="517.02" r="4.3" class="b"/><circle cx="608.4" cy="517.02" r="4.3" class="b"/><circle cx="611.7" cy="517.02" r="4.3" class="b"/><circle cx="609.1" cy="517.02" r="4.3" class="b"/><circle cx="607.9" cy="517.02" r="4.3" class="b"/><circle cx="612.4" cy="517.02" r="4.3" class="b"/><circle cx="611.8" cy="517.02" r="4.3" class="b"/><circle cx="608.0" cy="517.02" r="4.3" class="b"/><circle cx="612.3" cy="517.02" r="4.3" class="b"/><circle cx="614.7" cy="517.02" r="4.3" class="r"/><circle cx="615.7" cy="517.02" r="4.3" class="r"/><circle cx="615.0" cy="517.02" r="4.3" class="b"/><circle cx="616.4" cy="517.02" r="4.3" class="b"/><circle cx="615.7" cy="517.02" r="4.3" class="b"/><circle cx="616.0" cy="517.02" r="4.3" class="b"/><circle cx="612.2" cy="517.02" r="4.3" class="b"/><circle cx="615.2" cy="517.02" r="4.3" class="b"/><circle cx="614.2" cy="517.02" r="4.3" class="b"/><circle cx="615.5" cy="517.02" r="4.3" class="b"/><circle cx="613.6" cy="517.02" r="4.3" class="b"/><circle cx="616.3" cy="517.02" r="4.3" class="b"/><circle cx="614.3" cy="517.02" r="4.3" class="b"/><circle cx="612.6" cy="517.02" r="4.3" class="b"/><circle cx="616.4" cy="517.02" r="4.3" class="r"/><circle cx="615.8" cy="517.02" r="4.3" class="r"/><circle cx="618.0" cy="517.02" r="4.3" class="b"/><circle cx="615.4" cy="517.02" r="4.3" class="b"/><circle cx="617.8" cy="517.02" r="4.3" class="b"/><circle cx="615.9" cy="517.02" r="4.3" class="b"/><circle cx="617.9" cy="517.02" r="4.3" class="b"/><circle cx="618.0" cy="517.02" r="4.3" class="b"/><circle cx="618.2" cy="517.02" r="4.3" class="b"/><circle cx="620.2" cy="517.02" r="4.3" class="b"/><circle cx="615.0" cy="517.02" r="4.3" class="b"/><circle cx="620.0" cy="517.02" r="4.3" class="b"/><circle cx="617.8" cy="517.02" r="4.3" class="b"/><circle cx="618.4" cy="517.02" r="4.3" class="b"/><circle cx="623.0" cy="517.02" r="4.3" class="r"/><circle cx="624.0" cy="517.02" r="4.3" class="r"/><circle cx="621.2" cy="517.02" r="4.3" class="b"/><circle cx="621.5" cy="517.02" r="4.3" class="b"/><circle cx="624.8" cy="517.02" r="4.3" class="b"/><circle cx="619.5" cy="517.02" r="4.3" class="b"/><circle cx="622.8" cy="517.02" r="4.3" class="b"/><circle cx="622.8" cy="517.02" r="4.3" class="b"/><circle cx="619.2" cy="517.02" r="4.3" class="b"/><circle cx="622.7" cy="517.02" r="4.3" class="b"/><circle cx="623.1" cy="517.02" r="4.3" class="b"/><circle cx="624.6" cy="517.02" r="4.3" class="b"/><circle cx="621.0" cy="517.02" r="4.3" class="b"/><circle cx="624.9" cy="517.02" r="4.3" class="b"/><circle cx="626.1" cy="517.02" r="4.3" class="r"/><circle cx="625.9" cy="517.02" r="4.3" class="r"/><circle cx="628.4" cy="517.02" r="4.3" class="b"/><circle cx="623.2" cy="517.02" r="4.3" class="b"/><circle cx="627.3" cy="517.02" r="4.3" class="b"/><circle cx="626.8" cy="517.02" r="4.3" class="b"/><circle cx="625.0" cy="517.02" r="4.3" class="b"/><circle cx="628.2" cy="517.02" r="4.3" class="b"/><circle cx="625.2" cy="517.02" r="4.3" class="b"/><circle cx="625.8" cy="517.02" r="4.3" class="b"/><circle cx="626.2" cy="517.02" r="4.3" class="b"/><circle cx="627.6" cy="517.02" r="4.3" class="b"/><circle cx="624.3" cy="517.02" r="4.3" class="b"/><circle cx="625.6" cy="517.02" r="4.3" class="b"/><circle cx="625.5" cy="517.02" r="4.3" class="r"/><circle cx="626.3" cy="517.02" r="4.3" class="r"/><circle cx="628.0" cy="517.02" r="4.3" class="r"/><circle cx="624.8" cy="517.02" r="4.3" class="b"/><circle cx="628.0" cy="517.02" r="4.3" class="b"/><circle cx="625.4" cy="517.02" r="4.3" class="b"/><circle cx="626.0" cy="517.02" r="4.3" class="b"/><circle cx="624.6" cy="517.02" r="4.3" class="b"/><circle cx="626.0" cy="517.02" r="4.3" class="b"/><circle cx="628.8" cy="517.02" r="4.3" class="b"/><circle cx="630.9" cy="517.02" r="4.3" class="r"/><circle cx="631.8" cy="517.02" r="4.3" class="r"/><circle cx="629.0" cy="517.02" r="4.3" class="r"/><circle cx="628.9" cy="517.02" r="4.3" class="b"/><circle cx="628.8" cy="517.02" r="4.3" class="b"/><circle cx="630.5" cy="517.02" r="4.3" class="b"/><circle cx="630.8" cy="517.02" r="4.3" class="b"/><circle cx="631.7" cy="517.02" r="4.3" class="b"/><circle cx="627.2" cy="517.02" r="4.3" class="b"/><circle cx="631.3" cy="517.02" r="4.3" class="b"/><circle cx="636.3" cy="517.02" r="4.3" class="r"/><circle cx="634.3" cy="517.02" r="4.3" class="r"/><circle cx="631.3" cy="517.02" r="4.3" class="r"/><circle cx="632.8" cy="517.02" r="4.3" class="b"/><circle cx="631.0" cy="517.02" r="4.3" class="b"/><circle cx="632.1" cy="517.02" r="4.3" class="b"/><circle cx="636.5" cy="517.02" r="4.3" class="b"/><circle cx="634.7" cy="517.02" r="4.3" class="b"/><circle cx="634.9" cy="517.02" r="4.3" class="b"/><circle cx="635.7" cy="517.02" r="4.3" class="b"/><circle cx="640.5" cy="517.02" r="4.3" class="r"/><circle cx="638.7" cy="517.02" r="4.3" class="r"/><circle cx="638.7" cy="517.02" r="4.3" class="r"/><circle cx="638.8" cy="517.02" r="4.3" class="b"/><circle cx="639.2" cy="517.02" r="4.3" class="b"/><circle cx="638.6" cy="517.02" r="4.3" class="b"/><circle cx="639.1" cy="517.02" r="4.3" class="b"/><circle cx="636.3" cy="517.02" r="4.3" class="b"/><circle cx="639.0" cy="517.02" r="4.3" class="b"/><circle cx="637.7" cy="517.02" r="4.3" class="b"/><circle cx="643.6" cy="517.02" r="4.3" class="r"/><circle cx="639.6" cy="517.02" r="4.3" class="r"/><circle cx="640.1" cy="517.02" r="4.3" class="r"/><circle cx="639.2" cy="517.02" r="4.3" class="b"/><circle cx="643.6" cy="517.02" r="4.3" class="b"/><circle cx="644.5" cy="517.02" r="4.3" class="b"/><circle cx="642.9" cy="517.02" r="4.3" class="b"/><circle cx="641.2" cy="517.02" r="4.3" class="b"/><circle cx="643.9" cy="517.02" r="4.3" class="b"/><circle cx="643.7" cy="517.02" r="4.3" class="b"/><circle cx="646.4" cy="517.02" r="4.3" class="r"/><circle cx="644.5" cy="517.02" r="4.3" class="r"/><circle cx="644.8" cy="517.02" r="4.3" class="r"/><circle cx="645.5" cy="517.02" r="4.3" class="b"/><circle cx="644.9" cy="517.02" r="4.3" class="b"/><circle cx="645.6" cy="517.02" r="4.3" class="b"/><circle cx="646.9" cy="517.02" r="4.3" class="b"/><circle cx="648.6" cy="517.02" r="4.3" class="b"/><circle cx="643.3" cy="517.02" r="4.3" class="b"/><circle cx="646.4" cy="517.02" r="4.3" class="b"/><circle cx="647.2" cy="517.02" r="4.3" class="r"/><circle cx="647.7" cy="517.02" r="4.3" class="r"/><circle cx="651.9" cy="517.02" r="4.3" class="r"/><circle cx="650.5" cy="517.02" r="4.3" class="b"/><circle cx="652.5" cy="517.02" r="4.3" class="b"/><circle cx="649.7" cy="517.02" r="4.3" class="b"/><circle cx="647.1" cy="517.02" r="4.3" class="b"/><circle cx="649.3" cy="517.02" r="4.3" class="b"/><circle cx="650.6" cy="517.02" r="4.3" class="b"/><circle cx="652.6" cy="517.02" r="4.3" class="b"/><circle cx="654.9" cy="517.02" r="4.3" class="r"/><circle cx="651.9" cy="517.02" r="4.3" class="r"/><circle cx="651.5" cy="517.02" r="4.3" class="b"/><circle cx="649.6" cy="517.02" r="4.3" class="b"/><circle cx="652.9" cy="517.02" r="4.3" class="b"/><circle cx="650.3" cy="517.02" r="4.3" class="b"/><circle cx="649.9" cy="517.02" r="4.3" class="b"/><circle cx="649.1" cy="517.02" r="4.3" class="b"/><circle cx="649.0" cy="517.02" r="4.3" class="b"/><circle cx="653.1" cy="517.02" r="4.3" class="b"/><circle cx="649.7" cy="517.02" r="4.3" class="b"/><circle cx="654.8" cy="517.02" r="4.3" class="b"/><circle cx="649.5" cy="517.02" r="4.3" class="b"/><circle cx="654.2" cy="517.02" r="4.3" class="b"/><circle cx="653.8" cy="517.02" r="4.3" class="r"/><circle cx="653.1" cy="517.02" r="4.3" class="r"/><circle cx="657.3" cy="517.02" r="4.3" class="b"/><circle cx="654.5" cy="517.02" r="4.3" class="b"/><circle cx="657.4" cy="517.02" r="4.3" class="b"/><circle cx="654.1" cy="517.02" r="4.3" class="b"/><circle cx="653.3" cy="517.02" r="4.3" class="b"/><circle cx="657.6" cy="517.02" r="4.3" class="b"/><circle cx="657.3" cy="517.02" r="4.3" class="b"/><circle cx="658.1" cy="517.02" r="4.3" class="b"/><circle cx="657.4" cy="517.02" r="4.3" class="b"/><circle cx="653.5" cy="517.02" r="4.3" class="b"/><circle cx="656.8" cy="517.02" r="4.3" class="b"/><circle cx="657.3" cy="517.02" r="4.3" class="b"/><circle cx="659.8" cy="517.02" r="4.3" class="r"/><circle cx="662.6" cy="517.02" r="4.3" class="r"/><circle cx="658.5" cy="517.02" r="4.3" class="b"/><circle cx="662.8" cy="517.02" r="4.3" class="b"/><circle cx="661.3" cy="517.02" r="4.3" class="b"/><circle cx="657.1" cy="517.02" r="4.3" class="b"/><circle cx="657.1" cy="517.02" r="4.3" class="b"/><circle cx="660.9" cy="517.02" r="4.3" class="b"/><circle cx="661.9" cy="517.02" r="4.3" class="b"/><circle cx="657.5" cy="517.02" r="4.3" class="b"/><circle cx="658.9" cy="517.02" r="4.3" class="b"/><circle cx="661.4" cy="517.02" r="4.3" class="b"/><circle cx="658.0" cy="517.02" r="4.3" class="b"/><circle cx="662.2" cy="517.02" r="4.3" class="b"/><circle cx="663.9" cy="517.02" r="4.3" class="r"/><circle cx="661.4" cy="517.02" r="4.3" class="r"/><circle cx="663.2" cy="517.02" r="4.3" class="b"/><circle cx="664.4" cy="517.02" r="4.3" class="b"/><circle cx="663.6" cy="517.02" r="4.3" class="b"/><circle cx="665.1" cy="517.02" r="4.3" class="b"/><circle cx="661.9" cy="517.02" r="4.3" class="b"/><circle cx="665.8" cy="517.02" r="4.3" class="b"/><circle cx="663.2" cy="517.02" r="4.3" class="b"/><circle cx="664.9" cy="517.02" r="4.3" class="b"/><circle cx="664.8" cy="517.02" r="4.3" class="b"/><circle cx="663.5" cy="517.02" r="4.3" class="b"/><circle cx="663.3" cy="517.02" r="4.3" class="b"/><circle cx="665.7" cy="517.02" r="4.3" class="b"/><circle cx="670.7" cy="517.02" r="4.3" class="r"/><circle cx="669.7" cy="517.02" r="4.3" class="r"/><circle cx="668.4" cy="517.02" r="4.3" class="b"/><circle cx="666.8" cy="517.02" r="4.3" class="b"/><circle cx="665.4" cy="517.02" r="4.3" class="b"/><circle cx="670.8" cy="517.02" r="4.3" class="b"/><circle cx="669.2" cy="517.02" r="4.3" class="b"/><circle cx="670.0" cy="517.02" r="4.3" class="b"/><circle cx="667.0" cy="517.02" r="4.3" class="b"/><circle cx="668.6" cy="517.02" r="4.3" class="b"/><circle cx="670.9" cy="517.02" r="4.3" class="b"/><circle cx="670.0" cy="517.02" r="4.3" class="b"/><circle cx="668.6" cy="517.02" r="4.3" class="b"/><circle cx="666.9" cy="517.02" r="4.3" class="b"/><circle cx="670.6" cy="517.02" r="4.3" class="b"/><circle cx="671.1" cy="517.02" r="4.3" class="b"/><circle cx="672.3" cy="517.02" r="4.3" class="r"/><circle cx="671.8" cy="517.02" r="4.3" class="b"/><circle cx="669.6" cy="517.02" r="4.3" class="r"/><circle cx="672.4" cy="517.02" r="4.3" class="b"/><circle cx="669.3" cy="517.02" r="4.3" class="r"/><circle cx="674.5" cy="517.02" r="4.3" class="r"/><circle cx="677.0" cy="517.02" r="4.3" class="b"/><circle cx="677.3" cy="517.02" r="4.3" class="b"/><circle cx="676.9" cy="517.02" r="4.3" class="r"/><circle cx="675.5" cy="517.02" r="4.3" class="r"/><circle cx="672.3" cy="517.02" r="4.3" class="b"/><circle cx="676.9" cy="517.02" r="4.3" class="b"/><circle cx="681.8" cy="517.02" r="4.3" class="b"/><circle cx="682.6" cy="517.02" r="4.3" class="b"/><circle cx="681.5" cy="517.02" r="4.3" class="b"/><circle cx="679.1" cy="517.02" r="4.3" class="r"/><circle cx="678.2" cy="517.02" r="4.3" class="b"/><circle cx="680.3" cy="517.02" r="4.3" class="r"/><circle cx="677.5" cy="517.02" r="4.3" class="r"/><circle cx="683.8" cy="517.02" r="4.3" class="r"/><circle cx="682.2" cy="517.02" r="4.3" class="r"/><circle cx="682.5" cy="517.02" r="4.3" class="r"/><circle cx="685.5" cy="517.02" r="4.3" class="b"/><circle cx="685.7" cy="517.02" r="4.3" class="b"/><circle cx="683.8" cy="517.02" r="4.3" class="b"/><circle cx="681.5" cy="517.02" r="4.3" class="b"/><circle cx="685.8" cy="517.02" r="4.3" class="b"/><circle cx="685.6" cy="517.02" r="4.3" class="b"/><circle cx="682.4" cy="517.02" r="4.3" class="b"/><circle cx="688.5" cy="517.02" r="4.3" class="r"/><circle cx="690.4" cy="517.02" r="4.3" class="r"/><circle cx="690.3" cy="517.02" r="4.3" class="r"/><circle cx="688.1" cy="517.02" r="4.3" class="b"/><circle cx="687.9" cy="517.02" r="4.3" class="b"/><circle cx="688.5" cy="517.02" r="4.3" class="b"/><circle cx="686.1" cy="517.02" r="4.3" class="b"/><circle cx="686.2" cy="517.02" r="4.3" class="b"/><circle cx="686.1" cy="517.02" r="4.3" class="b"/><circle cx="689.2" cy="517.02" r="4.3" class="b"/><circle cx="691.2" cy="517.02" r="4.3" class="r"/><circle cx="692.4" cy="517.02" r="4.3" class="r"/><circle cx="691.4" cy="517.02" r="4.3" class="r"/><circle cx="692.1" cy="517.02" r="4.3" class="b"/><circle cx="689.9" cy="517.02" r="4.3" class="b"/><circle cx="689.3" cy="517.02" r="4.3" class="b"/><circle cx="695.0" cy="517.02" r="4.3" class="b"/><circle cx="691.2" cy="517.02" r="4.3" class="b"/><circle cx="689.6" cy="517.02" r="4.3" class="b"/><circle cx="692.8" cy="517.02" r="4.3" class="b"/><circle cx="697.7" cy="517.02" r="4.3" class="r"/><circle cx="693.9" cy="517.02" r="4.3" class="r"/><circle cx="696.6" cy="517.02" r="4.3" class="r"/><circle cx="695.1" cy="517.02" r="4.3" class="b"/><circle cx="696.1" cy="517.02" r="4.3" class="b"/><circle cx="693.1" cy="517.02" r="4.3" class="b"/><circle cx="693.2" cy="517.02" r="4.3" class="b"/><circle cx="698.9" cy="517.02" r="4.3" class="b"/><circle cx="698.2" cy="517.02" r="4.3" class="b"/><circle cx="695.9" cy="517.02" r="4.3" class="b"/><circle cx="700.4" cy="517.02" r="4.3" class="r"/><circle cx="698.6" cy="517.02" r="4.3" class="r"/><circle cx="701.7" cy="517.02" r="4.3" class="r"/><circle cx="699.6" cy="517.02" r="4.3" class="b"/><circle cx="702.7" cy="517.02" r="4.3" class="b"/><circle cx="701.6" cy="517.02" r="4.3" class="b"/><circle cx="701.9" cy="517.02" r="4.3" class="b"/><circle cx="702.8" cy="517.02" r="4.3" class="b"/><circle cx="698.5" cy="517.02" r="4.3" class="b"/><circle cx="697.2" cy="517.02" r="4.3" class="b"/><circle cx="702.2" cy="517.02" r="4.3" class="r"/><circle cx="702.1" cy="517.02" r="4.3" class="r"/><circle cx="701.5" cy="517.02" r="4.3" class="r"/><circle cx="701.3" cy="517.02" r="4.3" class="b"/><circle cx="704.3" cy="517.02" r="4.3" class="b"/><circle cx="706.2" cy="517.02" r="4.3" class="b"/><circle cx="703.7" cy="517.02" r="4.3" class="b"/><circle cx="706.7" cy="517.02" r="4.3" class="b"/><circle cx="706.5" cy="517.02" r="4.3" class="b"/><circle cx="701.4" cy="517.02" r="4.3" class="b"/><circle cx="708.6" cy="517.02" r="4.3" class="r"/><circle cx="707.4" cy="517.02" r="4.3" class="r"/><circle cx="705.7" cy="517.02" r="4.3" class="r"/><circle cx="710.8" cy="517.02" r="4.3" class="b"/><circle cx="706.5" cy="517.02" r="4.3" class="b"/><circle cx="708.4" cy="517.02" r="4.3" class="b"/><circle cx="708.8" cy="517.02" r="4.3" class="b"/><circle cx="710.7" cy="517.02" r="4.3" class="b"/><circle cx="709.0" cy="517.02" r="4.3" class="b"/><circle cx="707.4" cy="517.02" r="4.3" class="b"/><circle cx="711.7" cy="517.02" r="4.3" class="r"/><circle cx="710.0" cy="517.02" r="4.3" class="r"/><circle cx="714.8" cy="517.02" r="4.3" class="r"/><circle cx="715.0" cy="517.02" r="4.3" class="b"/><circle cx="710.3" cy="517.02" r="4.3" class="b"/><circle cx="709.2" cy="517.02" r="4.3" class="b"/><circle cx="710.5" cy="517.02" r="4.3" class="b"/><circle cx="711.1" cy="517.02" r="4.3" class="b"/><circle cx="714.4" cy="517.02" r="4.3" class="b"/><circle cx="714.4" cy="517.02" r="4.3" class="b"/><circle cx="718.0" cy="517.02" r="4.3" class="r"/><circle cx="713.3" cy="517.02" r="4.3" class="r"/><circle cx="717.7" cy="517.02" r="4.3" class="r"/><circle cx="717.3" cy="517.02" r="4.3" class="b"/><circle cx="716.9" cy="517.02" r="4.3" class="b"/><circle cx="718.9" cy="517.02" r="4.3" class="b"/><circle cx="713.3" cy="517.02" r="4.3" class="b"/><circle cx="713.9" cy="517.02" r="4.3" class="b"/><circle cx="717.5" cy="517.02" r="4.3" class="b"/><circle cx="718.6" cy="517.02" r="4.3" class="b"/><circle cx="721.1" cy="517.02" r="4.3" class="r"/><circle cx="718.8" cy="517.02" r="4.3" class="r"/><circle cx="720.5" cy="517.02" r="4.3" class="r"/><circle cx="721.5" cy="517.02" r="4.3" class="b"/><circle cx="717.6" cy="517.02" r="4.3" class="b"/><circle cx="718.9" cy="517.02" r="4.3" class="b"/><circle cx="718.5" cy="517.02" r="4.3" class="b"/><circle cx="717.7" cy="517.02" r="4.3" class="b"/><circle cx="719.9" cy="517.02" r="4.3" class="b"/><circle cx="718.0" cy="517.02" r="4.3" class="b"/><circle cx="722.4" cy="517.02" r="4.3" class="r"/><circle cx="721.9" cy="517.02" r="4.3" class="r"/><circle cx="725.1" cy="517.02" r="4.3" class="r"/><circle cx="721.1" cy="517.02" r="4.3" class="b"/><circle cx="725.3" cy="517.02" r="4.3" class="b"/><circle cx="722.2" cy="517.02" r="4.3" class="b"/><circle cx="721.2" cy="517.02" r="4.3" class="b"/><circle cx="726.6" cy="517.02" r="4.3" class="b"/><circle cx="722.3" cy="517.02" r="4.3" class="b"/><circle cx="726.6" cy="517.02" r="4.3" class="b"/><circle cx="730.2" cy="517.02" r="4.3" class="r"/><circle cx="730.3" cy="517.02" r="4.3" class="r"/><circle cx="725.8" cy="517.02" r="4.3" class="r"/><circle cx="727.7" cy="517.02" r="4.3" class="b"/><circle cx="725.6" cy="517.02" r="4.3" class="b"/><circle cx="730.6" cy="517.02" r="4.3" class="b"/><circle cx="730.1" cy="517.02" r="4.3" class="b"/><circle cx="728.8" cy="517.02" r="4.3" class="b"/><circle cx="727.7" cy="517.02" r="4.3" class="b"/><circle cx="727.0" cy="517.02" r="4.3" class="b"/><circle cx="733.9" cy="517.02" r="4.3" class="r"/><circle cx="731.9" cy="517.02" r="4.3" class="r"/><circle cx="732.8" cy="517.02" r="4.3" class="r"/><circle cx="729.9" cy="517.02" r="4.3" class="b"/><circle cx="730.3" cy="517.02" r="4.3" class="b"/><circle cx="729.3" cy="517.02" r="4.3" class="b"/><circle cx="733.3" cy="517.02" r="4.3" class="b"/><circle cx="732.3" cy="517.02" r="4.3" class="b"/><circle cx="729.9" cy="517.02" r="4.3" class="b"/><circle cx="734.2" cy="517.02" r="4.3" class="b"/><circle cx="739.0" cy="517.02" r="4.3" class="b"/><circle cx="736.0" cy="517.02" r="4.3" class="b"/><circle cx="736.5" cy="517.02" r="4.3" class="r"/><circle cx="735.0" cy="517.02" r="4.3" class="b"/><circle cx="734.9" cy="517.02" r="4.3" class="r"/><circle cx="735.6" cy="517.02" r="4.3" class="r"/><circle cx="735.6" cy="517.02" r="4.3" class="b"/><circle cx="744.0" cy="517.02" r="4.3" class="b"/><circle cx="743.7" cy="517.02" r="4.3" class="b"/><circle cx="744.6" cy="517.02" r="4.3" class="b"/><circle cx="742.4" cy="517.02" r="4.3" class="b"/><circle cx="742.1" cy="517.02" r="4.3" class="r"/><circle cx="742.8" cy="517.02" r="4.3" class="r"/><circle cx="739.9" cy="517.02" r="4.3" class="r"/><circle cx="748.4" cy="517.02" r="4.3" class="b"/><circle cx="743.3" cy="517.02" r="4.3" class="b"/><circle cx="747.4" cy="517.02" r="4.3" class="b"/><circle cx="744.7" cy="517.02" r="4.3" class="b"/><circle cx="749.0" cy="517.02" r="4.3" class="r"/><circle cx="748.6" cy="517.02" r="4.3" class="r"/><circle cx="743.6" cy="517.02" r="4.3" class="r"/><circle cx="750.1" cy="517.02" r="4.3" class="r"/><circle cx="749.7" cy="517.02" r="4.3" class="r"/><circle cx="751.7" cy="517.02" r="4.3" class="r"/><circle cx="752.7" cy="517.02" r="4.3" class="b"/><circle cx="748.7" cy="517.02" r="4.3" class="b"/><circle cx="749.2" cy="517.02" r="4.3" class="b"/><circle cx="747.2" cy="517.02" r="4.3" class="b"/><circle cx="749.5" cy="517.02" r="4.3" class="b"/><circle cx="748.7" cy="517.02" r="4.3" class="b"/><circle cx="748.1" cy="517.02" r="4.3" class="b"/><circle cx="759.3" cy="517.02" r="4.3" class="b"/><circle cx="757.6" cy="517.02" r="4.3" class="b"/><circle cx="759.1" cy="517.02" r="4.3" class="r"/><circle cx="757.1" cy="517.02" r="4.3" class="r"/><circle cx="755.4" cy="517.02" r="4.3" class="r"/><circle cx="755.1" cy="517.02" r="4.3" class="b"/><circle cx="759.0" cy="517.02" r="4.3" class="b"/><circle cx="765.2" cy="517.02" r="4.3" class="r"/><circle cx="762.2" cy="517.02" r="4.3" class="b"/><circle cx="765.9" cy="517.02" r="4.3" class="r"/><circle cx="764.5" cy="517.02" r="4.3" class="b"/><circle cx="764.7" cy="517.02" r="4.3" class="r"/><circle cx="769.1" cy="517.02" r="4.3" class="r"/><circle cx="768.7" cy="517.02" r="4.3" class="b"/><circle cx="770.1" cy="517.02" r="4.3" class="r"/><circle cx="770.8" cy="517.02" r="4.3" class="b"/><circle cx="772.8" cy="517.02" r="4.3" class="b"/><circle cx="776.0" cy="517.02" r="4.3" class="b"/><circle cx="774.5" cy="517.02" r="4.3" class="r"/><circle cx="776.6" cy="517.02" r="4.3" class="r"/><circle cx="784.4" cy="517.02" r="4.3" class="r"/><circle cx="785.2" cy="517.02" r="4.3" class="r"/><circle cx="783.1" cy="517.02" r="4.3" class="b"/><circle cx="781.2" cy="517.02" r="4.3" class="r"/><circle cx="786.1" cy="517.02" r="4.3" class="b"/><circle cx="792.9" cy="517.02" r="4.3" class="r"/><circle cx="792.3" cy="517.02" r="4.3" class="r"/><circle cx="793.2" cy="517.02" r="4.3" class="b"/><circle cx="789.9" cy="517.02" r="4.3" class="b"/><circle cx="797.6" cy="517.02" r="4.3" class="r"/><circle cx="799.7" cy="517.02" r="4.3" class="b"/><circle cx="801.4" cy="517.02" r="4.3" class="r"/><circle cx="798.7" cy="517.02" r="4.3" class="r"/><circle cx="804.1" cy="517.02" r="4.3" class="b"/><circle cx="804.3" cy="517.02" r="4.3" class="r"/><circle cx="808.8" cy="517.02" r="4.3" class="r"/><circle cx="803.1" cy="517.02" r="4.3" class="r"/><circle cx="811.1" cy="517.02" r="4.3" class="b"/><circle cx="814.3" cy="517.02" r="4.3" class="r"/><circle cx="816.6" cy="517.02" r="4.3" class="b"/><circle cx="816.7" cy="517.02" r="4.3" class="r"/><circle cx="822.8" cy="517.02" r="4.3" class="r"/><circle cx="820.4" cy="517.02" r="4.3" class="b"/><circle cx="821.7" cy="517.02" r="4.3" class="b"/><circle cx="824.0" cy="517.02" r="4.3" class="r"/><circle cx="821.8" cy="517.02" r="4.3" class="r"/><circle cx="827.7" cy="517.02" r="4.3" class="r"/><circle cx="830.0" cy="517.02" r="4.3" class="b"/><circle cx="827.3" cy="517.02" r="4.3" class="r"/><circle cx="830.0" cy="517.02" r="4.3" class="r"/><circle cx="840.4" cy="517.02" r="4.3" class="b"/><circle cx="843.0" cy="517.02" r="4.3" class="b"/><circle cx="842.2" cy="517.02" r="4.3" class="r"/><circle cx="841.8" cy="517.02" r="4.3" class="b"/><circle cx="839.7" cy="517.02" r="4.3" class="r"/><circle cx="844.3" cy="517.02" r="4.3" class="r"/><circle cx="840.4" cy="517.02" r="4.3" class="b"/><circle cx="859.8" cy="517.02" r="4.3" class="b"/><circle cx="854.2" cy="517.02" r="4.3" class="r"/><circle cx="857.6" cy="517.02" r="4.3" class="r"/><circle cx="857.6" cy="517.02" r="4.3" class="r"/><circle cx="872.6" cy="517.02" r="4.3" class="b"/><circle cx="873.6" cy="517.02" r="4.3" class="b"/><circle cx="879.6" cy="517.02" r="4.3" class="r"/><circle cx="889.5" cy="517.02" r="4.3" class="r"/><circle cx="893.5" cy="517.02" r="4.3" class="r"/><circle cx="900.8" cy="517.02" r="4.3" class="r"/><circle cx="901.1" cy="517.02" r="4.3" class="r"/><circle cx="905.0" cy="517.02" r="4.3" class="b"/><circle cx="908.1" cy="517.02" r="4.3" class="r"/><circle cx="915.6" cy="517.02" r="4.3" class="r"/><circle cx="916.6" cy="517.02" r="4.3" class="r"/><circle cx="921.7" cy="517.02" r="4.3" class="r"/><circle cx="925.8" cy="517.02" r="4.3" class="r"/><circle cx="941.0" cy="517.02" r="4.3" class="b"/><circle cx="948.2" cy="517.02" r="4.3" class="b"/><circle cx="948.2" cy="517.02" r="4.3" class="r"/><circle cx="957.0" cy="517.02" r="4.3" class="r"/><circle cx="992.6" cy="517.02" r="4.3" class="r"/><circle cx="992.8" cy="517.02" r="4.3" class="r"/><circle cx="1012.0" cy="517.02" r="4.3" class="r"/><circle cx="1037.0" cy="517.02" r="4.3" class="r"/><circle cx="1162.0" cy="517.02" r="4.3" class="r"/><circle cx="1525.8" cy="517.02" r="4.3" class="r"/><circle cx="1823.5" cy="517.02" r="4.3" class="b"/><circle cx="262.7" cy="610.15" r="4.3" class="r"/><circle cx="271.9" cy="610.15" r="4.3" class="b"/><circle cx="274.0" cy="610.15" r="4.3" class="r"/><circle cx="276.6" cy="610.15" r="4.3" class="b"/><circle cx="283.9" cy="610.15" r="4.3" class="r"/><circle cx="285.4" cy="610.15" r="4.3" class="b"/><circle cx="293.9" cy="610.15" r="4.3" class="b"/><circle cx="293.3" cy="610.15" r="4.3" class="b"/><circle cx="292.9" cy="610.15" r="4.3" class="b"/><circle cx="300.0" cy="610.15" r="4.3" class="r"/><circle cx="302.1" cy="610.15" r="4.3" class="r"/><circle cx="300.1" cy="610.15" r="4.3" class="r"/><circle cx="304.1" cy="610.15" r="4.3" class="b"/><circle cx="308.0" cy="610.15" r="4.3" class="r"/><circle cx="312.2" cy="610.15" r="4.3" class="r"/><circle cx="309.4" cy="610.15" r="4.3" class="b"/><circle cx="319.0" cy="610.15" r="4.3" class="r"/><circle cx="316.2" cy="610.15" r="4.3" class="r"/><circle cx="325.6" cy="610.15" r="4.3" class="r"/><circle cx="325.8" cy="610.15" r="4.3" class="r"/><circle cx="324.7" cy="610.15" r="4.3" class="r"/><circle cx="323.8" cy="610.15" r="4.3" class="b"/><circle cx="320.8" cy="610.15" r="4.3" class="r"/><circle cx="331.5" cy="610.15" r="4.3" class="r"/><circle cx="329.7" cy="610.15" r="4.3" class="r"/><circle cx="329.8" cy="610.15" r="4.3" class="r"/><circle cx="330.8" cy="610.15" r="4.3" class="b"/><circle cx="326.2" cy="610.15" r="4.3" class="b"/><circle cx="326.6" cy="610.15" r="4.3" class="b"/><circle cx="326.7" cy="610.15" r="4.3" class="b"/><circle cx="326.1" cy="610.15" r="4.3" class="b"/><circle cx="327.4" cy="610.15" r="4.3" class="b"/><circle cx="326.2" cy="610.15" r="4.3" class="b"/><circle cx="335.7" cy="610.15" r="4.3" class="r"/><circle cx="337.1" cy="610.15" r="4.3" class="r"/><circle cx="336.0" cy="610.15" r="4.3" class="b"/><circle cx="335.4" cy="610.15" r="4.3" class="b"/><circle cx="340.8" cy="610.15" r="4.3" class="b"/><circle cx="340.5" cy="610.15" r="4.3" class="b"/><circle cx="340.4" cy="610.15" r="4.3" class="b"/><circle cx="335.5" cy="610.15" r="4.3" class="b"/><circle cx="338.5" cy="610.15" r="4.3" class="b"/><circle cx="340.6" cy="610.15" r="4.3" class="b"/><circle cx="337.6" cy="610.15" r="4.3" class="b"/><circle cx="338.1" cy="610.15" r="4.3" class="b"/><circle cx="340.3" cy="610.15" r="4.3" class="b"/><circle cx="340.5" cy="610.15" r="4.3" class="b"/><circle cx="344.5" cy="610.15" r="4.3" class="r"/><circle cx="342.6" cy="610.15" r="4.3" class="r"/><circle cx="345.4" cy="610.15" r="4.3" class="r"/><circle cx="345.4" cy="610.15" r="4.3" class="b"/><circle cx="342.7" cy="610.15" r="4.3" class="b"/><circle cx="343.7" cy="610.15" r="4.3" class="b"/><circle cx="345.2" cy="610.15" r="4.3" class="b"/><circle cx="342.3" cy="610.15" r="4.3" class="b"/><circle cx="343.3" cy="610.15" r="4.3" class="b"/><circle cx="344.3" cy="610.15" r="4.3" class="b"/><circle cx="347.2" cy="610.15" r="4.3" class="r"/><circle cx="350.4" cy="610.15" r="4.3" class="r"/><circle cx="346.8" cy="610.15" r="4.3" class="b"/><circle cx="347.9" cy="610.15" r="4.3" class="b"/><circle cx="349.9" cy="610.15" r="4.3" class="b"/><circle cx="345.2" cy="610.15" r="4.3" class="b"/><circle cx="347.0" cy="610.15" r="4.3" class="b"/><circle cx="346.1" cy="610.15" r="4.3" class="b"/><circle cx="348.3" cy="610.15" r="4.3" class="b"/><circle cx="350.8" cy="610.15" r="4.3" class="b"/><circle cx="347.4" cy="610.15" r="4.3" class="b"/><circle cx="350.5" cy="610.15" r="4.3" class="b"/><circle cx="346.0" cy="610.15" r="4.3" class="b"/><circle cx="350.7" cy="610.15" r="4.3" class="b"/><circle cx="350.9" cy="610.15" r="4.3" class="r"/><circle cx="351.0" cy="610.15" r="4.3" class="r"/><circle cx="350.6" cy="610.15" r="4.3" class="b"/><circle cx="354.3" cy="610.15" r="4.3" class="b"/><circle cx="350.3" cy="610.15" r="4.3" class="b"/><circle cx="349.3" cy="610.15" r="4.3" class="b"/><circle cx="349.1" cy="610.15" r="4.3" class="b"/><circle cx="352.3" cy="610.15" r="4.3" class="b"/><circle cx="352.6" cy="610.15" r="4.3" class="b"/><circle cx="351.1" cy="610.15" r="4.3" class="b"/><circle cx="352.9" cy="610.15" r="4.3" class="b"/><circle cx="352.1" cy="610.15" r="4.3" class="b"/><circle cx="354.0" cy="610.15" r="4.3" class="b"/><circle cx="351.1" cy="610.15" r="4.3" class="b"/><circle cx="357.6" cy="610.15" r="4.3" class="r"/><circle cx="356.1" cy="610.15" r="4.3" class="r"/><circle cx="358.9" cy="610.15" r="4.3" class="b"/><circle cx="357.1" cy="610.15" r="4.3" class="b"/><circle cx="358.6" cy="610.15" r="4.3" class="b"/><circle cx="355.5" cy="610.15" r="4.3" class="b"/><circle cx="357.0" cy="610.15" r="4.3" class="b"/><circle cx="353.8" cy="610.15" r="4.3" class="b"/><circle cx="354.2" cy="610.15" r="4.3" class="b"/><circle cx="356.7" cy="610.15" r="4.3" class="b"/><circle cx="354.7" cy="610.15" r="4.3" class="b"/><circle cx="358.0" cy="610.15" r="4.3" class="b"/><circle cx="353.6" cy="610.15" r="4.3" class="b"/><circle cx="358.1" cy="610.15" r="4.3" class="b"/><circle cx="362.5" cy="610.15" r="4.3" class="r"/><circle cx="363.0" cy="610.15" r="4.3" class="r"/><circle cx="358.6" cy="610.15" r="4.3" class="b"/><circle cx="360.8" cy="610.15" r="4.3" class="b"/><circle cx="360.8" cy="610.15" r="4.3" class="b"/><circle cx="361.2" cy="610.15" r="4.3" class="b"/><circle cx="359.5" cy="610.15" r="4.3" class="b"/><circle cx="357.6" cy="610.15" r="4.3" class="b"/><circle cx="359.5" cy="610.15" r="4.3" class="b"/><circle cx="360.3" cy="610.15" r="4.3" class="b"/><circle cx="357.7" cy="610.15" r="4.3" class="b"/><circle cx="359.4" cy="610.15" r="4.3" class="b"/><circle cx="363.0" cy="610.15" r="4.3" class="b"/><circle cx="357.9" cy="610.15" r="4.3" class="b"/><circle cx="366.1" cy="610.15" r="4.3" class="r"/><circle cx="362.7" cy="610.15" r="4.3" class="r"/><circle cx="364.7" cy="610.15" r="4.3" class="b"/><circle cx="361.7" cy="610.15" r="4.3" class="b"/><circle cx="366.1" cy="610.15" r="4.3" class="b"/><circle cx="365.2" cy="610.15" r="4.3" class="b"/><circle cx="362.7" cy="610.15" r="4.3" class="b"/><circle cx="363.1" cy="610.15" r="4.3" class="b"/><circle cx="363.1" cy="610.15" r="4.3" class="b"/><circle cx="364.2" cy="610.15" r="4.3" class="b"/><circle cx="364.6" cy="610.15" r="4.3" class="b"/><circle cx="364.9" cy="610.15" r="4.3" class="b"/><circle cx="361.0" cy="610.15" r="4.3" class="b"/><circle cx="365.5" cy="610.15" r="4.3" class="b"/><circle cx="370.9" cy="610.15" r="4.3" class="r"/><circle cx="367.3" cy="610.15" r="4.3" class="r"/><circle cx="366.8" cy="610.15" r="4.3" class="b"/><circle cx="368.2" cy="610.15" r="4.3" class="b"/><circle cx="369.8" cy="610.15" r="4.3" class="b"/><circle cx="367.6" cy="610.15" r="4.3" class="b"/><circle cx="367.3" cy="610.15" r="4.3" class="b"/><circle cx="366.4" cy="610.15" r="4.3" class="b"/><circle cx="369.9" cy="610.15" r="4.3" class="b"/><circle cx="367.0" cy="610.15" r="4.3" class="b"/><circle cx="370.8" cy="610.15" r="4.3" class="b"/><circle cx="368.6" cy="610.15" r="4.3" class="b"/><circle cx="366.5" cy="610.15" r="4.3" class="b"/><circle cx="367.0" cy="610.15" r="4.3" class="b"/><circle cx="374.8" cy="610.15" r="4.3" class="r"/><circle cx="374.3" cy="610.15" r="4.3" class="r"/><circle cx="374.7" cy="610.15" r="4.3" class="b"/><circle cx="369.2" cy="610.15" r="4.3" class="b"/><circle cx="370.5" cy="610.15" r="4.3" class="b"/><circle cx="374.4" cy="610.15" r="4.3" class="b"/><circle cx="370.8" cy="610.15" r="4.3" class="b"/><circle cx="372.2" cy="610.15" r="4.3" class="b"/><circle cx="370.9" cy="610.15" r="4.3" class="b"/><circle cx="372.7" cy="610.15" r="4.3" class="b"/><circle cx="371.6" cy="610.15" r="4.3" class="b"/><circle cx="374.0" cy="610.15" r="4.3" class="b"/><circle cx="373.4" cy="610.15" r="4.3" class="b"/><circle cx="371.6" cy="610.15" r="4.3" class="b"/><circle cx="375.8" cy="610.15" r="4.3" class="r"/><circle cx="373.2" cy="610.15" r="4.3" class="r"/><circle cx="377.1" cy="610.15" r="4.3" class="b"/><circle cx="375.7" cy="610.15" r="4.3" class="b"/><circle cx="373.1" cy="610.15" r="4.3" class="b"/><circle cx="373.4" cy="610.15" r="4.3" class="b"/><circle cx="374.4" cy="610.15" r="4.3" class="b"/><circle cx="375.5" cy="610.15" r="4.3" class="b"/><circle cx="376.0" cy="610.15" r="4.3" class="b"/><circle cx="376.9" cy="610.15" r="4.3" class="b"/><circle cx="378.6" cy="610.15" r="4.3" class="b"/><circle cx="373.9" cy="610.15" r="4.3" class="b"/><circle cx="374.1" cy="610.15" r="4.3" class="b"/><circle cx="375.5" cy="610.15" r="4.3" class="b"/><circle cx="379.4" cy="610.15" r="4.3" class="r"/><circle cx="381.6" cy="610.15" r="4.3" class="r"/><circle cx="382.4" cy="610.15" r="4.3" class="b"/><circle cx="380.5" cy="610.15" r="4.3" class="b"/><circle cx="381.1" cy="610.15" r="4.3" class="b"/><circle cx="381.5" cy="610.15" r="4.3" class="b"/><circle cx="377.6" cy="610.15" r="4.3" class="b"/><circle cx="379.2" cy="610.15" r="4.3" class="b"/><circle cx="379.2" cy="610.15" r="4.3" class="b"/><circle cx="377.5" cy="610.15" r="4.3" class="b"/><circle cx="378.9" cy="610.15" r="4.3" class="b"/><circle cx="378.1" cy="610.15" r="4.3" class="b"/><circle cx="380.9" cy="610.15" r="4.3" class="b"/><circle cx="378.8" cy="610.15" r="4.3" class="b"/><circle cx="383.1" cy="610.15" r="4.3" class="r"/><circle cx="386.6" cy="610.15" r="4.3" class="r"/><circle cx="384.1" cy="610.15" r="4.3" class="b"/><circle cx="386.8" cy="610.15" r="4.3" class="b"/><circle cx="384.8" cy="610.15" r="4.3" class="b"/><circle cx="384.1" cy="610.15" r="4.3" class="b"/><circle cx="385.9" cy="610.15" r="4.3" class="b"/><circle cx="382.2" cy="610.15" r="4.3" class="b"/><circle cx="386.4" cy="610.15" r="4.3" class="b"/><circle cx="383.5" cy="610.15" r="4.3" class="b"/><circle cx="381.4" cy="610.15" r="4.3" class="b"/><circle cx="384.4" cy="610.15" r="4.3" class="b"/><circle cx="381.6" cy="610.15" r="4.3" class="b"/><circle cx="384.4" cy="610.15" r="4.3" class="b"/><circle cx="388.8" cy="610.15" r="4.3" class="r"/><circle cx="389.3" cy="610.15" r="4.3" class="r"/><circle cx="389.2" cy="610.15" r="4.3" class="b"/><circle cx="385.1" cy="610.15" r="4.3" class="b"/><circle cx="385.0" cy="610.15" r="4.3" class="b"/><circle cx="389.3" cy="610.15" r="4.3" class="b"/><circle cx="388.3" cy="610.15" r="4.3" class="b"/><circle cx="390.5" cy="610.15" r="4.3" class="b"/><circle cx="387.4" cy="610.15" r="4.3" class="b"/><circle cx="385.6" cy="610.15" r="4.3" class="b"/><circle cx="385.1" cy="610.15" r="4.3" class="b"/><circle cx="385.2" cy="610.15" r="4.3" class="b"/><circle cx="386.1" cy="610.15" r="4.3" class="b"/><circle cx="389.6" cy="610.15" r="4.3" class="b"/><circle cx="392.4" cy="610.15" r="4.3" class="r"/><circle cx="394.2" cy="610.15" r="4.3" class="r"/><circle cx="394.4" cy="610.15" r="4.3" class="b"/><circle cx="392.1" cy="610.15" r="4.3" class="b"/><circle cx="389.9" cy="610.15" r="4.3" class="b"/><circle cx="390.2" cy="610.15" r="4.3" class="b"/><circle cx="392.6" cy="610.15" r="4.3" class="b"/><circle cx="389.9" cy="610.15" r="4.3" class="b"/><circle cx="392.1" cy="610.15" r="4.3" class="b"/><circle cx="392.1" cy="610.15" r="4.3" class="b"/><circle cx="389.2" cy="610.15" r="4.3" class="b"/><circle cx="389.5" cy="610.15" r="4.3" class="b"/><circle cx="394.7" cy="610.15" r="4.3" class="b"/><circle cx="391.9" cy="610.15" r="4.3" class="b"/><circle cx="395.8" cy="610.15" r="4.3" class="r"/><circle cx="395.6" cy="610.15" r="4.3" class="r"/><circle cx="397.8" cy="610.15" r="4.3" class="b"/><circle cx="396.9" cy="610.15" r="4.3" class="b"/><circle cx="397.1" cy="610.15" r="4.3" class="b"/><circle cx="396.5" cy="610.15" r="4.3" class="b"/><circle cx="393.9" cy="610.15" r="4.3" class="b"/><circle cx="394.4" cy="610.15" r="4.3" class="b"/><circle cx="394.7" cy="610.15" r="4.3" class="b"/><circle cx="393.2" cy="610.15" r="4.3" class="b"/><circle cx="396.8" cy="610.15" r="4.3" class="b"/><circle cx="398.2" cy="610.15" r="4.3" class="b"/><circle cx="398.7" cy="610.15" r="4.3" class="b"/><circle cx="393.4" cy="610.15" r="4.3" class="b"/><circle cx="398.1" cy="610.15" r="4.3" class="r"/><circle cx="400.7" cy="610.15" r="4.3" class="r"/><circle cx="397.1" cy="610.15" r="4.3" class="b"/><circle cx="398.3" cy="610.15" r="4.3" class="b"/><circle cx="399.4" cy="610.15" r="4.3" class="b"/><circle cx="401.6" cy="610.15" r="4.3" class="b"/><circle cx="397.3" cy="610.15" r="4.3" class="b"/><circle cx="397.3" cy="610.15" r="4.3" class="b"/><circle cx="398.4" cy="610.15" r="4.3" class="b"/><circle cx="398.3" cy="610.15" r="4.3" class="b"/><circle cx="398.0" cy="610.15" r="4.3" class="b"/><circle cx="400.5" cy="610.15" r="4.3" class="b"/><circle cx="398.0" cy="610.15" r="4.3" class="b"/><circle cx="397.0" cy="610.15" r="4.3" class="b"/><circle cx="406.2" cy="610.15" r="4.3" class="r"/><circle cx="403.7" cy="610.15" r="4.3" class="r"/><circle cx="403.5" cy="610.15" r="4.3" class="b"/><circle cx="402.5" cy="610.15" r="4.3" class="b"/><circle cx="406.3" cy="610.15" r="4.3" class="b"/><circle cx="406.9" cy="610.15" r="4.3" class="b"/><circle cx="401.4" cy="610.15" r="4.3" class="b"/><circle cx="405.1" cy="610.15" r="4.3" class="b"/><circle cx="405.0" cy="610.15" r="4.3" class="b"/><circle cx="404.5" cy="610.15" r="4.3" class="b"/><circle cx="403.5" cy="610.15" r="4.3" class="b"/><circle cx="403.4" cy="610.15" r="4.3" class="b"/><circle cx="405.3" cy="610.15" r="4.3" class="b"/><circle cx="401.1" cy="610.15" r="4.3" class="b"/><circle cx="410.2" cy="610.15" r="4.3" class="r"/><circle cx="405.5" cy="610.15" r="4.3" class="r"/><circle cx="406.0" cy="610.15" r="4.3" class="b"/><circle cx="407.3" cy="610.15" r="4.3" class="b"/><circle cx="405.0" cy="610.15" r="4.3" class="b"/><circle cx="410.3" cy="610.15" r="4.3" class="b"/><circle cx="407.4" cy="610.15" r="4.3" class="b"/><circle cx="407.2" cy="610.15" r="4.3" class="b"/><circle cx="407.0" cy="610.15" r="4.3" class="b"/><circle cx="410.2" cy="610.15" r="4.3" class="b"/><circle cx="407.0" cy="610.15" r="4.3" class="b"/><circle cx="408.9" cy="610.15" r="4.3" class="b"/><circle cx="410.8" cy="610.15" r="4.3" class="b"/><circle cx="407.5" cy="610.15" r="4.3" class="b"/><circle cx="416.5" cy="610.15" r="4.3" class="r"/><circle cx="414.3" cy="610.15" r="4.3" class="r"/><circle cx="413.3" cy="610.15" r="4.3" class="r"/><circle cx="413.8" cy="610.15" r="4.3" class="b"/><circle cx="413.1" cy="610.15" r="4.3" class="b"/><circle cx="413.6" cy="610.15" r="4.3" class="b"/><circle cx="412.7" cy="610.15" r="4.3" class="b"/><circle cx="411.2" cy="610.15" r="4.3" class="b"/><circle cx="415.8" cy="610.15" r="4.3" class="b"/><circle cx="412.5" cy="610.15" r="4.3" class="b"/><circle cx="415.8" cy="610.15" r="4.3" class="r"/><circle cx="416.2" cy="610.15" r="4.3" class="r"/><circle cx="418.3" cy="610.15" r="4.3" class="r"/><circle cx="419.7" cy="610.15" r="4.3" class="b"/><circle cx="418.3" cy="610.15" r="4.3" class="b"/><circle cx="417.8" cy="610.15" r="4.3" class="b"/><circle cx="419.8" cy="610.15" r="4.3" class="b"/><circle cx="416.4" cy="610.15" r="4.3" class="b"/><circle cx="417.2" cy="610.15" r="4.3" class="b"/><circle cx="416.3" cy="610.15" r="4.3" class="b"/><circle cx="421.4" cy="610.15" r="4.3" class="r"/><circle cx="422.8" cy="610.15" r="4.3" class="r"/><circle cx="422.5" cy="610.15" r="4.3" class="r"/><circle cx="420.8" cy="610.15" r="4.3" class="b"/><circle cx="421.9" cy="610.15" r="4.3" class="b"/><circle cx="420.2" cy="610.15" r="4.3" class="b"/><circle cx="424.2" cy="610.15" r="4.3" class="b"/><circle cx="423.1" cy="610.15" r="4.3" class="b"/><circle cx="424.7" cy="610.15" r="4.3" class="b"/><circle cx="425.0" cy="610.15" r="4.3" class="b"/><circle cx="426.6" cy="610.15" r="4.3" class="r"/><circle cx="425.6" cy="610.15" r="4.3" class="r"/><circle cx="428.9" cy="610.15" r="4.3" class="r"/><circle cx="426.2" cy="610.15" r="4.3" class="b"/><circle cx="425.4" cy="610.15" r="4.3" class="b"/><circle cx="426.1" cy="610.15" r="4.3" class="b"/><circle cx="423.8" cy="610.15" r="4.3" class="b"/><circle cx="427.5" cy="610.15" r="4.3" class="b"/><circle cx="427.1" cy="610.15" r="4.3" class="b"/><circle cx="423.5" cy="610.15" r="4.3" class="b"/><circle cx="432.1" cy="610.15" r="4.3" class="r"/><circle cx="431.4" cy="610.15" r="4.3" class="r"/><circle cx="431.6" cy="610.15" r="4.3" class="r"/><circle cx="427.2" cy="610.15" r="4.3" class="b"/><circle cx="431.3" cy="610.15" r="4.3" class="b"/><circle cx="427.9" cy="610.15" r="4.3" class="b"/><circle cx="427.1" cy="610.15" r="4.3" class="b"/><circle cx="431.3" cy="610.15" r="4.3" class="b"/><circle cx="431.2" cy="610.15" r="4.3" class="b"/><circle cx="431.7" cy="610.15" r="4.3" class="b"/><circle cx="432.4" cy="610.15" r="4.3" class="r"/><circle cx="432.1" cy="610.15" r="4.3" class="r"/><circle cx="436.3" cy="610.15" r="4.3" class="r"/><circle cx="431.4" cy="610.15" r="4.3" class="b"/><circle cx="436.5" cy="610.15" r="4.3" class="b"/><circle cx="435.8" cy="610.15" r="4.3" class="b"/><circle cx="435.6" cy="610.15" r="4.3" class="b"/><circle cx="432.2" cy="610.15" r="4.3" class="b"/><circle cx="435.3" cy="610.15" r="4.3" class="b"/><circle cx="431.5" cy="610.15" r="4.3" class="b"/><circle cx="436.7" cy="610.15" r="4.3" class="r"/><circle cx="439.9" cy="610.15" r="4.3" class="r"/><circle cx="437.4" cy="610.15" r="4.3" class="r"/><circle cx="437.1" cy="610.15" r="4.3" class="b"/><circle cx="440.1" cy="610.15" r="4.3" class="b"/><circle cx="437.8" cy="610.15" r="4.3" class="b"/><circle cx="438.8" cy="610.15" r="4.3" class="b"/><circle cx="438.8" cy="610.15" r="4.3" class="b"/><circle cx="440.2" cy="610.15" r="4.3" class="b"/><circle cx="440.6" cy="610.15" r="4.3" class="b"/><circle cx="440.1" cy="610.15" r="4.3" class="r"/><circle cx="441.2" cy="610.15" r="4.3" class="r"/><circle cx="443.8" cy="610.15" r="4.3" class="r"/><circle cx="443.1" cy="610.15" r="4.3" class="b"/><circle cx="444.4" cy="610.15" r="4.3" class="b"/><circle cx="439.2" cy="610.15" r="4.3" class="b"/><circle cx="443.2" cy="610.15" r="4.3" class="b"/><circle cx="441.8" cy="610.15" r="4.3" class="b"/><circle cx="445.0" cy="610.15" r="4.3" class="b"/><circle cx="441.4" cy="610.15" r="4.3" class="b"/><circle cx="448.4" cy="610.15" r="4.3" class="r"/><circle cx="443.6" cy="610.15" r="4.3" class="r"/><circle cx="444.7" cy="610.15" r="4.3" class="r"/><circle cx="444.6" cy="610.15" r="4.3" class="b"/><circle cx="446.7" cy="610.15" r="4.3" class="b"/><circle cx="444.3" cy="610.15" r="4.3" class="b"/><circle cx="447.1" cy="610.15" r="4.3" class="b"/><circle cx="445.4" cy="610.15" r="4.3" class="b"/><circle cx="446.7" cy="610.15" r="4.3" class="b"/><circle cx="445.6" cy="610.15" r="4.3" class="b"/><circle cx="451.9" cy="610.15" r="4.3" class="r"/><circle cx="448.3" cy="610.15" r="4.3" class="r"/><circle cx="451.8" cy="610.15" r="4.3" class="r"/><circle cx="450.7" cy="610.15" r="4.3" class="b"/><circle cx="451.2" cy="610.15" r="4.3" class="b"/><circle cx="453.0" cy="610.15" r="4.3" class="b"/><circle cx="450.8" cy="610.15" r="4.3" class="b"/><circle cx="448.8" cy="610.15" r="4.3" class="b"/><circle cx="450.4" cy="610.15" r="4.3" class="b"/><circle cx="450.5" cy="610.15" r="4.3" class="b"/><circle cx="458.6" cy="610.15" r="4.3" class="r"/><circle cx="457.0" cy="610.15" r="4.3" class="r"/><circle cx="456.5" cy="610.15" r="4.3" class="b"/><circle cx="458.6" cy="610.15" r="4.3" class="b"/><circle cx="453.7" cy="610.15" r="4.3" class="b"/><circle cx="457.6" cy="610.15" r="4.3" class="b"/><circle cx="456.9" cy="610.15" r="4.3" class="b"/><circle cx="458.4" cy="610.15" r="4.3" class="b"/><circle cx="458.3" cy="610.15" r="4.3" class="b"/><circle cx="456.5" cy="610.15" r="4.3" class="b"/><circle cx="457.2" cy="610.15" r="4.3" class="b"/><circle cx="458.8" cy="610.15" r="4.3" class="b"/><circle cx="457.1" cy="610.15" r="4.3" class="b"/><circle cx="453.2" cy="610.15" r="4.3" class="b"/><circle cx="460.9" cy="610.15" r="4.3" class="r"/><circle cx="463.7" cy="610.15" r="4.3" class="r"/><circle cx="461.1" cy="610.15" r="4.3" class="b"/><circle cx="464.5" cy="610.15" r="4.3" class="b"/><circle cx="461.5" cy="610.15" r="4.3" class="b"/><circle cx="463.5" cy="610.15" r="4.3" class="b"/><circle cx="465.0" cy="610.15" r="4.3" class="b"/><circle cx="462.7" cy="610.15" r="4.3" class="b"/><circle cx="460.3" cy="610.15" r="4.3" class="b"/><circle cx="462.2" cy="610.15" r="4.3" class="b"/><circle cx="461.1" cy="610.15" r="4.3" class="b"/><circle cx="464.7" cy="610.15" r="4.3" class="b"/><circle cx="461.7" cy="610.15" r="4.3" class="b"/><circle cx="461.0" cy="610.15" r="4.3" class="b"/><circle cx="468.0" cy="610.15" r="4.3" class="r"/><circle cx="469.1" cy="610.15" r="4.3" class="r"/><circle cx="470.0" cy="610.15" r="4.3" class="b"/><circle cx="468.8" cy="610.15" r="4.3" class="b"/><circle cx="468.1" cy="610.15" r="4.3" class="b"/><circle cx="469.1" cy="610.15" r="4.3" class="b"/><circle cx="466.2" cy="610.15" r="4.3" class="b"/><circle cx="469.0" cy="610.15" r="4.3" class="b"/><circle cx="470.1" cy="610.15" r="4.3" class="b"/><circle cx="469.7" cy="610.15" r="4.3" class="b"/><circle cx="467.9" cy="610.15" r="4.3" class="b"/><circle cx="466.1" cy="610.15" r="4.3" class="b"/><circle cx="470.7" cy="610.15" r="4.3" class="b"/><circle cx="470.0" cy="610.15" r="4.3" class="b"/><circle cx="476.8" cy="610.15" r="4.3" class="b"/><circle cx="472.4" cy="610.15" r="4.3" class="b"/><circle cx="474.4" cy="610.15" r="4.3" class="r"/><circle cx="475.7" cy="610.15" r="4.3" class="b"/><circle cx="472.6" cy="610.15" r="4.3" class="b"/><circle cx="472.0" cy="610.15" r="4.3" class="r"/><circle cx="472.0" cy="610.15" r="4.3" class="r"/><circle cx="480.8" cy="610.15" r="4.3" class="r"/><circle cx="479.9" cy="610.15" r="4.3" class="b"/><circle cx="477.0" cy="610.15" r="4.3" class="b"/><circle cx="481.1" cy="610.15" r="4.3" class="r"/><circle cx="477.8" cy="610.15" r="4.3" class="r"/><circle cx="479.9" cy="610.15" r="4.3" class="b"/><circle cx="481.2" cy="610.15" r="4.3" class="b"/><circle cx="486.5" cy="610.15" r="4.3" class="r"/><circle cx="483.8" cy="610.15" r="4.3" class="r"/><circle cx="486.8" cy="610.15" r="4.3" class="b"/><circle cx="484.4" cy="610.15" r="4.3" class="b"/><circle cx="485.5" cy="610.15" r="4.3" class="b"/><circle cx="483.7" cy="610.15" r="4.3" class="b"/><circle cx="487.2" cy="610.15" r="4.3" class="r"/><circle cx="490.2" cy="610.15" r="4.3" class="b"/><circle cx="490.7" cy="610.15" r="4.3" class="r"/><circle cx="489.4" cy="610.15" r="4.3" class="b"/><circle cx="489.7" cy="610.15" r="4.3" class="r"/><circle cx="490.2" cy="610.15" r="4.3" class="b"/><circle cx="491.2" cy="610.15" r="4.3" class="r"/><circle cx="490.7" cy="610.15" r="4.3" class="b"/><circle cx="499.1" cy="610.15" r="4.3" class="r"/><circle cx="499.8" cy="610.15" r="4.3" class="r"/><circle cx="498.1" cy="610.15" r="4.3" class="r"/><circle cx="499.7" cy="610.15" r="4.3" class="b"/><circle cx="496.7" cy="610.15" r="4.3" class="b"/><circle cx="499.2" cy="610.15" r="4.3" class="b"/><circle cx="502.3" cy="610.15" r="4.3" class="b"/><circle cx="499.3" cy="610.15" r="4.3" class="b"/><circle cx="500.9" cy="610.15" r="4.3" class="b"/><circle cx="498.4" cy="610.15" r="4.3" class="b"/><circle cx="506.6" cy="610.15" r="4.3" class="r"/><circle cx="509.7" cy="610.15" r="4.3" class="b"/><circle cx="510.7" cy="610.15" r="4.3" class="b"/><circle cx="507.9" cy="610.15" r="4.3" class="b"/><circle cx="506.9" cy="610.15" r="4.3" class="b"/><circle cx="509.4" cy="610.15" r="4.3" class="r"/><circle cx="508.9" cy="610.15" r="4.3" class="r"/><circle cx="513.4" cy="610.15" r="4.3" class="b"/><circle cx="516.8" cy="610.15" r="4.3" class="b"/><circle cx="511.2" cy="610.15" r="4.3" class="r"/><circle cx="511.5" cy="610.15" r="4.3" class="r"/><circle cx="515.5" cy="610.15" r="4.3" class="r"/><circle cx="513.2" cy="610.15" r="4.3" class="b"/><circle cx="511.9" cy="610.15" r="4.3" class="b"/><circle cx="518.9" cy="610.15" r="4.3" class="b"/><circle cx="519.2" cy="610.15" r="4.3" class="b"/><circle cx="522.0" cy="610.15" r="4.3" class="b"/><circle cx="521.5" cy="610.15" r="4.3" class="r"/><circle cx="519.0" cy="610.15" r="4.3" class="r"/><circle cx="520.3" cy="610.15" r="4.3" class="b"/><circle cx="518.1" cy="610.15" r="4.3" class="r"/><circle cx="529.4" cy="610.15" r="4.3" class="r"/><circle cx="530.9" cy="610.15" r="4.3" class="r"/><circle cx="531.4" cy="610.15" r="4.3" class="b"/><circle cx="530.2" cy="610.15" r="4.3" class="b"/><circle cx="529.8" cy="610.15" r="4.3" class="r"/><circle cx="535.6" cy="610.15" r="4.3" class="r"/><circle cx="535.8" cy="610.15" r="4.3" class="b"/><circle cx="536.4" cy="610.15" r="4.3" class="r"/><circle cx="532.9" cy="610.15" r="4.3" class="b"/><circle cx="538.0" cy="610.15" r="4.3" class="r"/><circle cx="542.4" cy="610.15" r="4.3" class="r"/><circle cx="545.9" cy="610.15" r="4.3" class="b"/><circle cx="543.8" cy="610.15" r="4.3" class="r"/><circle cx="545.1" cy="610.15" r="4.3" class="b"/><circle cx="553.5" cy="610.15" r="4.3" class="r"/><circle cx="552.8" cy="610.15" r="4.3" class="r"/><circle cx="553.2" cy="610.15" r="4.3" class="b"/><circle cx="548.5" cy="610.15" r="4.3" class="r"/><circle cx="553.6" cy="610.15" r="4.3" class="b"/><circle cx="557.8" cy="610.15" r="4.3" class="r"/><circle cx="557.2" cy="610.15" r="4.3" class="r"/><circle cx="558.7" cy="610.15" r="4.3" class="r"/><circle cx="556.7" cy="610.15" r="4.3" class="b"/><circle cx="564.4" cy="610.15" r="4.3" class="r"/><circle cx="560.0" cy="610.15" r="4.3" class="r"/><circle cx="560.8" cy="610.15" r="4.3" class="b"/><circle cx="561.7" cy="610.15" r="4.3" class="b"/><circle cx="562.4" cy="610.15" r="4.3" class="b"/><circle cx="561.1" cy="610.15" r="4.3" class="b"/><circle cx="560.2" cy="610.15" r="4.3" class="b"/><circle cx="559.5" cy="610.15" r="4.3" class="b"/><circle cx="560.9" cy="610.15" r="4.3" class="b"/><circle cx="561.8" cy="610.15" r="4.3" class="b"/><circle cx="564.8" cy="610.15" r="4.3" class="b"/><circle cx="564.5" cy="610.15" r="4.3" class="b"/><circle cx="564.2" cy="610.15" r="4.3" class="b"/><circle cx="564.8" cy="610.15" r="4.3" class="b"/><circle cx="570.8" cy="610.15" r="4.3" class="r"/><circle cx="568.7" cy="610.15" r="4.3" class="r"/><circle cx="569.9" cy="610.15" r="4.3" class="b"/><circle cx="565.4" cy="610.15" r="4.3" class="b"/><circle cx="569.1" cy="610.15" r="4.3" class="b"/><circle cx="568.7" cy="610.15" r="4.3" class="b"/><circle cx="566.8" cy="610.15" r="4.3" class="b"/><circle cx="568.4" cy="610.15" r="4.3" class="b"/><circle cx="570.7" cy="610.15" r="4.3" class="b"/><circle cx="567.9" cy="610.15" r="4.3" class="b"/><circle cx="568.9" cy="610.15" r="4.3" class="b"/><circle cx="566.8" cy="610.15" r="4.3" class="b"/><circle cx="567.1" cy="610.15" r="4.3" class="b"/><circle cx="570.3" cy="610.15" r="4.3" class="b"/><circle cx="574.7" cy="610.15" r="4.3" class="r"/><circle cx="578.5" cy="610.15" r="4.3" class="b"/><circle cx="576.7" cy="610.15" r="4.3" class="b"/><circle cx="575.6" cy="610.15" r="4.3" class="r"/><circle cx="578.6" cy="610.15" r="4.3" class="r"/><circle cx="577.2" cy="610.15" r="4.3" class="b"/><circle cx="575.0" cy="610.15" r="4.3" class="b"/><circle cx="583.9" cy="610.15" r="4.3" class="r"/><circle cx="586.1" cy="610.15" r="4.3" class="b"/><circle cx="588.1" cy="610.15" r="4.3" class="b"/><circle cx="583.5" cy="610.15" r="4.3" class="r"/><circle cx="585.2" cy="610.15" r="4.3" class="r"/><circle cx="592.1" cy="610.15" r="4.3" class="r"/><circle cx="595.0" cy="610.15" r="4.3" class="r"/><circle cx="595.3" cy="610.15" r="4.3" class="r"/><circle cx="592.4" cy="610.15" r="4.3" class="b"/><circle cx="593.7" cy="610.15" r="4.3" class="b"/><circle cx="594.2" cy="610.15" r="4.3" class="b"/><circle cx="595.2" cy="610.15" r="4.3" class="b"/><circle cx="595.4" cy="610.15" r="4.3" class="b"/><circle cx="596.5" cy="610.15" r="4.3" class="b"/><circle cx="594.4" cy="610.15" r="4.3" class="b"/><circle cx="602.4" cy="610.15" r="4.3" class="r"/><circle cx="606.4" cy="610.15" r="4.3" class="r"/><circle cx="605.7" cy="610.15" r="4.3" class="r"/><circle cx="604.6" cy="610.15" r="4.3" class="b"/><circle cx="604.6" cy="610.15" r="4.3" class="r"/><circle cx="606.7" cy="610.15" r="4.3" class="r"/><circle cx="614.3" cy="610.15" r="4.3" class="r"/><circle cx="616.8" cy="610.15" r="4.3" class="r"/><circle cx="612.1" cy="610.15" r="4.3" class="r"/><circle cx="613.9" cy="610.15" r="4.3" class="b"/><circle cx="611.6" cy="610.15" r="4.3" class="b"/><circle cx="613.2" cy="610.15" r="4.3" class="b"/><circle cx="614.7" cy="610.15" r="4.3" class="b"/><circle cx="613.4" cy="610.15" r="4.3" class="b"/><circle cx="611.3" cy="610.15" r="4.3" class="b"/><circle cx="611.3" cy="610.15" r="4.3" class="b"/><circle cx="620.0" cy="610.15" r="4.3" class="b"/><circle cx="620.1" cy="610.15" r="4.3" class="b"/><circle cx="622.1" cy="610.15" r="4.3" class="r"/><circle cx="625.0" cy="610.15" r="4.3" class="r"/><circle cx="623.5" cy="610.15" r="4.3" class="r"/><circle cx="632.8" cy="610.15" r="4.3" class="r"/><circle cx="633.1" cy="610.15" r="4.3" class="r"/><circle cx="632.1" cy="610.15" r="4.3" class="b"/><circle cx="628.6" cy="610.15" r="4.3" class="b"/><circle cx="633.3" cy="610.15" r="4.3" class="b"/><circle cx="633.7" cy="610.15" r="4.3" class="r"/><circle cx="637.4" cy="610.15" r="4.3" class="b"/><circle cx="637.3" cy="610.15" r="4.3" class="b"/><circle cx="638.0" cy="610.15" r="4.3" class="r"/><circle cx="635.2" cy="610.15" r="4.3" class="r"/><circle cx="638.7" cy="610.15" r="4.3" class="b"/><circle cx="642.6" cy="610.15" r="4.3" class="r"/><circle cx="637.7" cy="610.15" r="4.3" class="r"/><circle cx="638.2" cy="610.15" r="4.3" class="b"/><circle cx="641.8" cy="610.15" r="4.3" class="r"/><circle cx="641.1" cy="610.15" r="4.3" class="b"/><circle cx="638.5" cy="610.15" r="4.3" class="b"/><circle cx="639.7" cy="610.15" r="4.3" class="b"/><circle cx="645.0" cy="610.15" r="4.3" class="r"/><circle cx="648.9" cy="610.15" r="4.3" class="b"/><circle cx="650.5" cy="610.15" r="4.3" class="b"/><circle cx="652.2" cy="610.15" r="4.3" class="b"/><circle cx="653.1" cy="610.15" r="4.3" class="b"/><circle cx="661.3" cy="610.15" r="4.3" class="r"/><circle cx="662.2" cy="610.15" r="4.3" class="r"/><circle cx="661.5" cy="610.15" r="4.3" class="r"/><circle cx="661.8" cy="610.15" r="4.3" class="b"/><circle cx="667.5" cy="610.15" r="4.3" class="r"/><circle cx="667.5" cy="610.15" r="4.3" class="b"/><circle cx="678.0" cy="610.15" r="4.3" class="r"/><circle cx="681.0" cy="610.15" r="4.3" class="r"/><circle cx="686.8" cy="610.15" r="4.3" class="b"/><circle cx="693.7" cy="610.15" r="4.3" class="r"/><circle cx="695.5" cy="610.15" r="4.3" class="r"/><circle cx="698.8" cy="610.15" r="4.3" class="r"/><circle cx="699.2" cy="610.15" r="4.3" class="r"/><circle cx="705.0" cy="610.15" r="4.3" class="r"/><circle cx="709.0" cy="610.15" r="4.3" class="r"/><circle cx="712.3" cy="610.15" r="4.3" class="r"/><circle cx="717.5" cy="610.15" r="4.3" class="r"/><circle cx="725.3" cy="610.15" r="4.3" class="b"/><circle cx="728.4" cy="610.15" r="4.3" class="b"/><circle cx="737.8" cy="610.15" r="4.3" class="b"/><circle cx="740.4" cy="610.15" r="4.3" class="b"/><circle cx="745.0" cy="610.15" r="4.3" class="b"/><circle cx="791.5" cy="610.15" r="4.3" class="r"/><circle cx="800.8" cy="610.15" r="4.3" class="r"/><circle cx="814.4" cy="610.15" r="4.3" class="r"/><circle cx="825.3" cy="610.15" r="4.3" class="b"/><circle cx="825.7" cy="610.15" r="4.3" class="b"/><circle cx="852.7" cy="610.15" r="4.3" class="r"/><circle cx="853.5" cy="610.15" r="4.3" class="r"/><circle cx="853.9" cy="610.15" r="4.3" class="b"/><circle cx="856.0" cy="610.15" r="4.3" class="r"/><circle cx="898.1" cy="610.15" r="4.3" class="b"/><circle cx="910.1" cy="610.15" r="4.3" class="r"/><circle cx="925.9" cy="610.15" r="4.3" class="r"/><circle cx="979.0" cy="610.15" r="4.3" class="r"/><circle cx="1655.2" cy="610.15" r="4.3" class="r"/><circle cx="189.8" cy="703.27" r="4.3" class="b"/><circle cx="212.7" cy="703.27" r="4.3" class="r"/><circle cx="222.1" cy="703.27" r="4.3" class="r"/><circle cx="234.5" cy="703.27" r="4.3" class="r"/><circle cx="239.0" cy="703.27" r="4.3" class="b"/><circle cx="239.0" cy="703.27" r="4.3" class="r"/><circle cx="247.1" cy="703.27" r="4.3" class="b"/><circle cx="254.4" cy="703.27" r="4.3" class="r"/><circle cx="275.7" cy="703.27" r="4.3" class="b"/><circle cx="280.1" cy="703.27" r="4.3" class="r"/><circle cx="280.9" cy="703.27" r="4.3" class="r"/><circle cx="281.8" cy="703.27" r="4.3" class="r"/><circle cx="281.6" cy="703.27" r="4.3" class="r"/><circle cx="280.9" cy="703.27" r="4.3" class="b"/><circle cx="308.2" cy="703.27" r="4.3" class="r"/><circle cx="308.5" cy="703.27" r="4.3" class="r"/><circle cx="316.6" cy="703.27" r="4.3" class="r"/><circle cx="316.2" cy="703.27" r="4.3" class="r"/><circle cx="322.0" cy="703.27" r="4.3" class="r"/><circle cx="322.2" cy="703.27" r="4.3" class="r"/><circle cx="329.5" cy="703.27" r="4.3" class="b"/><circle cx="335.4" cy="703.27" r="4.3" class="r"/><circle cx="336.7" cy="703.27" r="4.3" class="b"/><circle cx="346.9" cy="703.27" r="4.3" class="b"/><circle cx="348.5" cy="703.27" r="4.3" class="b"/><circle cx="347.4" cy="703.27" r="4.3" class="b"/><circle cx="348.6" cy="703.27" r="4.3" class="b"/><circle cx="347.7" cy="703.27" r="4.3" class="r"/><circle cx="354.9" cy="703.27" r="4.3" class="b"/><circle cx="361.4" cy="703.27" r="4.3" class="b"/><circle cx="365.3" cy="703.27" r="4.3" class="r"/><circle cx="390.7" cy="703.27" r="4.3" class="b"/><circle cx="390.7" cy="703.27" r="4.3" class="r"/><circle cx="395.9" cy="703.27" r="4.3" class="b"/><circle cx="399.2" cy="703.27" r="4.3" class="r"/><circle cx="405.7" cy="703.27" r="4.3" class="r"/><circle cx="414.4" cy="703.27" r="4.3" class="r"/><circle cx="413.1" cy="703.27" r="4.3" class="r"/><circle cx="428.9" cy="703.27" r="4.3" class="r"/><circle cx="439.3" cy="703.27" r="4.3" class="r"/><circle cx="452.3" cy="703.27" r="4.3" class="r"/><circle cx="456.2" cy="703.27" r="4.3" class="r"/><circle cx="464.3" cy="703.27" r="4.3" class="b"/><circle cx="464.0" cy="703.27" r="4.3" class="b"/><circle cx="464.7" cy="703.27" r="4.3" class="r"/><circle cx="470.8" cy="703.27" r="4.3" class="r"/><circle cx="470.1" cy="703.27" r="4.3" class="r"/><circle cx="468.8" cy="703.27" r="4.3" class="r"/><circle cx="473.0" cy="703.27" r="4.3" class="r"/><circle cx="473.5" cy="703.27" r="4.3" class="r"/><circle cx="473.7" cy="703.27" r="4.3" class="r"/><circle cx="481.6" cy="703.27" r="4.3" class="r"/><circle cx="483.6" cy="703.27" r="4.3" class="b"/><circle cx="488.3" cy="703.27" r="4.3" class="b"/><circle cx="487.8" cy="703.27" r="4.3" class="b"/><circle cx="488.1" cy="703.27" r="4.3" class="r"/><circle cx="493.3" cy="703.27" r="4.3" class="r"/><circle cx="499.8" cy="703.27" r="4.3" class="r"/><circle cx="505.7" cy="703.27" r="4.3" class="b"/><circle cx="505.7" cy="703.27" r="4.3" class="r"/><circle cx="514.2" cy="703.27" r="4.3" class="r"/><circle cx="520.7" cy="703.27" r="4.3" class="r"/><circle cx="523.3" cy="703.27" r="4.3" class="b"/><circle cx="527.8" cy="703.27" r="4.3" class="b"/><circle cx="540.9" cy="703.27" r="4.3" class="r"/><circle cx="545.4" cy="703.27" r="4.3" class="b"/><circle cx="549.6" cy="703.27" r="4.3" class="b"/><circle cx="548.8" cy="703.27" r="4.3" class="b"/><circle cx="550.0" cy="703.27" r="4.3" class="r"/><circle cx="554.5" cy="703.27" r="4.3" class="b"/><circle cx="570.1" cy="703.27" r="4.3" class="r"/><circle cx="569.5" cy="703.27" r="4.3" class="r"/><circle cx="604.0" cy="703.27" r="4.3" class="b"/><circle cx="604.0" cy="703.27" r="4.3" class="r"/><circle cx="611.2" cy="703.27" r="4.3" class="r"/><circle cx="616.4" cy="703.27" r="4.3" class="r"/><circle cx="641.8" cy="703.27" r="4.3" class="b"/><circle cx="657.4" cy="703.27" r="4.3" class="r"/><circle cx="691.9" cy="703.27" r="4.3" class="r"/><circle cx="732.7" cy="703.27" r="4.3" class="r"/><circle cx="742.7" cy="703.27" r="4.3" class="r"/><circle cx="749.2" cy="703.27" r="4.3" class="r"/><circle cx="773.8" cy="703.27" r="4.3" class="b"/><circle cx="774.9" cy="703.27" r="4.3" class="b"/><circle cx="846.9" cy="703.27" r="4.3" class="r"/><circle cx="863.2" cy="703.27" r="4.3" class="b"/><circle cx="374.9" cy="796.40" r="4.3" class="b"/><circle cx="383.2" cy="796.40" r="4.3" class="r"/><circle cx="411.9" cy="796.40" r="4.3" class="r"/><circle cx="474.1" cy="796.40" r="4.3" class="r"/><circle cx="555.9" cy="796.40" r="4.3" class="b"/><circle cx="577.9" cy="796.40" r="4.3" class="b"/><circle cx="623.8" cy="796.40" r="4.3" class="r"/><circle cx="653.9" cy="796.40" r="4.3" class="b"/></g><line x1="100.77" x2="108.77" y1="796.00" y2="796.00" stroke="#333333" stroke-width="2"/><line x1="100.77" x2="108.77" y1="610.00" y2="610.00" stroke="#333333" stroke-width="2"/><line x1="100.77" x2="108.77" y1="424.00" y2="424.00" stroke="#333333" stroke-width="2"/><line x1="100.77" x2="108.77" y1="238.00" y2="238.00" stroke="#333333" stroke-width="2"/><line x1="100.77" x2="108.77" y1="51.00" y2="51.00" stroke="#333333" stroke-width="2"/><line x1="395.00" x2="395.00" y1="833.10" y2="841.10" stroke="#333333" stroke-width="2"/><line x1="703.00" x2="703.00" y1="833.10" y2="841.10" stroke="#333333" stroke-width="2"/><line x1="1010.00" x2="1010.00" y1="833.10" y2="841.10" stroke="#333333" stroke-width="2"/><line x1="1318.00" x2="1318.00" y1="833.10" y2="841.10" stroke="#333333" stroke-width="2"/><line x1="1626.00" x2="1626.00" y1="833.10" y2="841.10" stroke="#333333" stroke-width="2"/><text transform="translate(94.5,813.20) scale(1,1.06)" text-anchor="end" font-size="42.5" fill="#4D4D4D">0</text><text transform="translate(94.5,627.20) scale(1,1.06)" text-anchor="end" font-size="42.5" fill="#4D4D4D">2</text><text transform="translate(94.5,441.20) scale(1,1.06)" text-anchor="end" font-size="42.5" fill="#4D4D4D">4</text><text transform="translate(94.5,255.20) scale(1,1.06)" text-anchor="end" font-size="42.5" fill="#4D4D4D">6</text><text transform="translate(94.5,68.20) scale(1,1.06)" text-anchor="end" font-size="42.5" fill="#4D4D4D">8</text><text transform="translate(371.70,880) scale(1,1.06)" font-size="42.5" fill="#4D4D4D">000</text><path d="M363.1,849 L363.1,880 L359.2,880 L359.2,855.8 L351.9,859.8 L351.2,857 L360.3,849 Z" fill="#4D4D4D"/><text transform="translate(703.00,880) scale(1,1.06)" text-anchor="middle" font-size="42.5" fill="#4D4D4D">2000</text><text transform="translate(1010.67,880) scale(1,1.06)" text-anchor="middle" font-size="42.5" fill="#4D4D4D">3000</text><text transform="translate(1318.34,880) scale(1,1.06)" text-anchor="middle" font-size="42.5" fill="#4D4D4D">4000</text><text transform="translate(1626.01,880) scale(1,1.06)" text-anchor="middle" font-size="42.5" fill="#4D4D4D">5000</text><text transform="translate(1006.98,935) scale(1,1.035)" text-anchor="middle" font-size="52.2" fill="#000">Gr_Liv_Area</text><text transform="translate(54,423.55) rotate(-90) scale(1,1.035)" x="0" y="0" text-anchor="middle" font-size="53.6" fill="#000">Bedroom_AbvGr</text>
</svg></body></html>
